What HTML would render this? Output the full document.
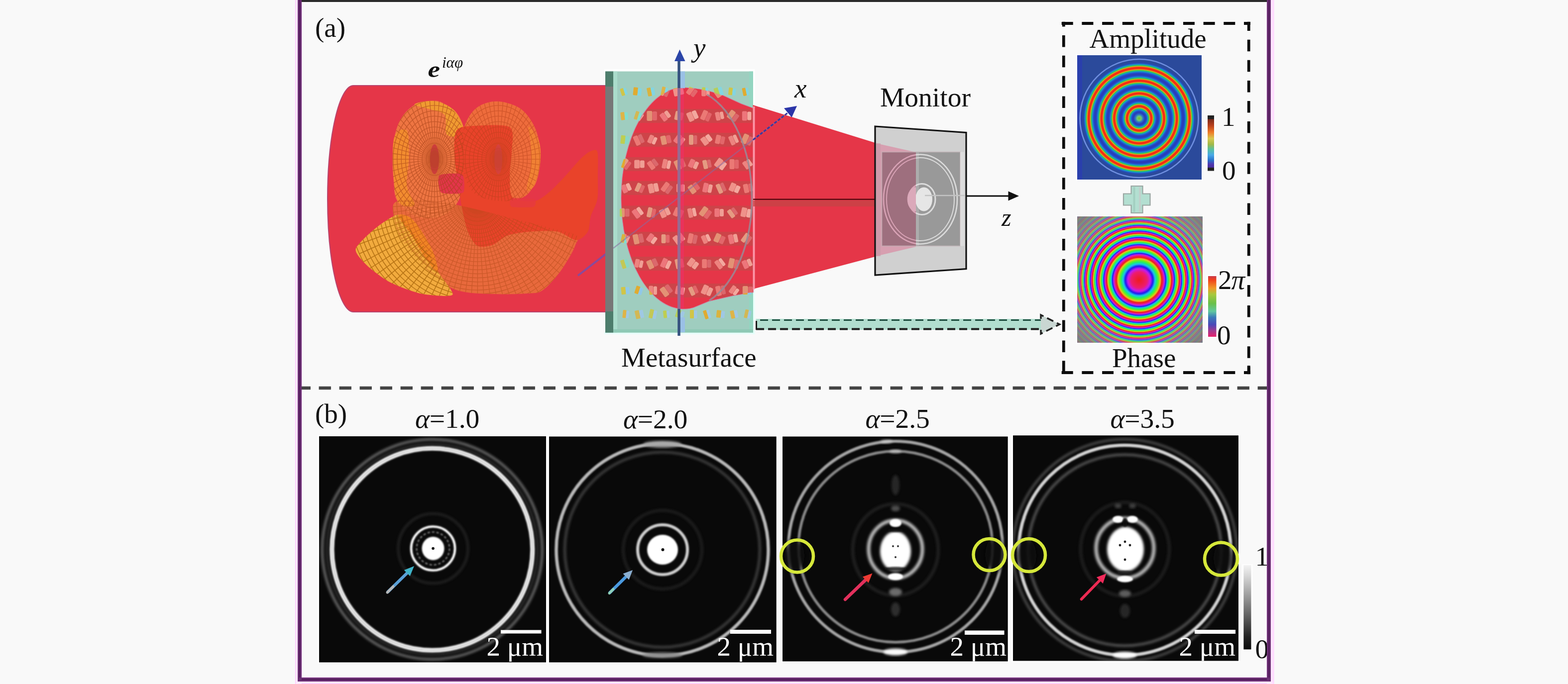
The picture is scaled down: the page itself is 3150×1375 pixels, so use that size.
<!DOCTYPE html>
<html lang="en"><head><meta charset="utf-8"><title>Metasurface vortex beam figure</title>
<style>
html,body{margin:0;padding:0;background:#f9f9f9;}
body{width:3150px;height:1375px;}
svg{display:block;font-family:'Liberation Serif','Noto Serif CJK SC',serif;}
</style></head><body>
<svg width="3150" height="1375" viewBox="0 0 3150 1375">
<defs>
<clipPath id="cpL"><path d="M871,202.6C862.1,202.9 846.7,204.2 836.5,209.1C826.3,214 816.8,222.5 809.8,232.1C802.7,241.7 798,253.1 794.4,266.5C790.9,279.9 789.3,296.5 788.7,312.5C788.1,328.4 789,346.9 790.6,362.2C792.2,377.5 790.6,392.2 798.3,404.3C805.9,416.4 821.9,429.8 836.5,434.9C851.2,440 872.3,440 886.3,434.9C900.3,429.8 913.4,417.7 920.7,404.3C928.1,390.9 928.6,371.1 930.3,354.6C932,338 931.4,320.8 931.1,304.8C930.7,288.9 931.4,272.3 928.4,258.9C925.4,245.5 919.5,233.1 913.1,224.4C906.7,215.8 897.1,210.9 890.1,207.2C883.1,203.6 879.9,202.3 871,202.6Z"/></clipPath>
<clipPath id="cpR"><path d="M1001.1,203.8C988.3,202.8 976.2,206.3 966.7,211C957.1,215.8 949.8,222.8 943.7,232.1C937.6,241.3 932.9,252.5 930.3,266.5C927.8,280.6 927.4,300.3 928.4,316.3C929.3,332.2 930.9,349.5 936,362.2C941.1,375 947.5,385.8 959,392.8C970.5,399.8 989.6,403.7 1004.9,404.3C1020.2,405 1039.4,402.4 1050.9,396.7C1062.3,390.9 1068.1,381.4 1073.8,369.9C1079.6,358.4 1083.7,341.8 1085.3,327.8C1086.9,313.7 1085.9,299.1 1083.4,285.7C1080.8,272.3 1076.7,258.9 1070,247.4C1063.3,235.9 1054.7,224.1 1043.2,216.8C1031.7,209.5 1013.9,204.7 1001.1,203.8Z"/></clipPath>
<clipPath id="cpF"><path d="M714.6,500.5C716.6,491.8 744.4,466.8 754.4,458.7C764.4,450.6 792.1,431 800.4,431.5C808.7,432 818.7,454.3 825.5,462.9C832.4,471.4 852.6,495 859,504.7C865.3,514.5 874.1,536.3 879.9,546.6C885.8,556.8 913.1,587.5 909.2,592.6C905.3,597.7 861.1,593.4 846.4,590.5C831.8,587.6 796.4,574.1 783.7,567.5C771,560.9 745.7,541.8 737.7,534C729.6,526.2 712.7,509.3 714.6,500.5Z"/></clipPath>
<clipPath id="cpS"><path d="M798.3,404.3C784.2,409.4 790,423.4 790.6,434.9C791.3,446.4 794.4,459.2 802.1,473.2C809.8,487.2 824.4,505.1 836.5,519.1C848.7,533.2 860.8,546.6 874.8,557.4C888.8,568.2 901.6,578.6 920.7,584.2C939.9,589.8 966.7,590.1 989.6,591.1C1012.6,592 1041.9,591.1 1058.5,589.9C1075.1,588.8 1078.9,590.2 1089.1,584.2C1099.3,578.1 1110.8,564.4 1119.7,553.6C1128.7,542.7 1136.6,529.3 1142.7,519.1C1148.8,508.9 1153.5,500 1156.1,492.3C1158.6,484.7 1166.6,478.9 1158,473.2C1149.4,467.5 1126.1,463.6 1104.4,457.9C1082.7,452.2 1053.4,445.1 1027.9,438.8C1002.4,432.4 976.9,425.4 951.4,419.6C925.8,413.9 900.3,406.9 874.8,404.3C849.3,401.8 812.3,399.2 798.3,404.3Z"/></clipPath>
<clipPath id="cpSpot"><path d="M1373.5,176.5 A125,222 0 0 0 1373.5,620.5 C1384,620.5 1390,619 1396,616.5 L1424,605 L1472,594 L1513,587 L1513,218 L1488.5,209 L1451.5,192 C1430,184.5 1405,177.5 1373.5,176.5 Z"/></clipPath>
<clipPath id="cpMonL"><rect x="1760" y="280" width="80" height="250"/></clipPath>
<clipPath id="cpMonR"><rect x="1840" y="280" width="100" height="250"/></clipPath>
<radialGradient id="gAmp" gradientUnits="userSpaceOnUse" cx="2288.5" cy="238" r="114.0"><stop offset="0.0000" stop-color="#78be1e"/><stop offset="0.0050" stop-color="#77bf2b"/><stop offset="0.0100" stop-color="#75c137"/><stop offset="0.0150" stop-color="#74c244"/><stop offset="0.0200" stop-color="#72c450"/><stop offset="0.0250" stop-color="#71c55d"/><stop offset="0.0300" stop-color="#70c669"/><stop offset="0.0350" stop-color="#6ec876"/><stop offset="0.0400" stop-color="#66be81"/><stop offset="0.0450" stop-color="#5cb18c"/><stop offset="0.0500" stop-color="#53a597"/><stop offset="0.0550" stop-color="#4998a2"/><stop offset="0.0600" stop-color="#3f8cae"/><stop offset="0.0650" stop-color="#357fb9"/><stop offset="0.0700" stop-color="#2c73c4"/><stop offset="0.0750" stop-color="#2869c6"/><stop offset="0.0800" stop-color="#2960c2"/><stop offset="0.0850" stop-color="#2a58bf"/><stop offset="0.0900" stop-color="#2a4fbb"/><stop offset="0.0950" stop-color="#2b47b7"/><stop offset="0.1000" stop-color="#2c3eb4"/><stop offset="0.1050" stop-color="#2b3bb5"/><stop offset="0.1100" stop-color="#293eba"/><stop offset="0.1150" stop-color="#2741c0"/><stop offset="0.1200" stop-color="#2544c5"/><stop offset="0.1250" stop-color="#2347ca"/><stop offset="0.1300" stop-color="#2150ce"/><stop offset="0.1350" stop-color="#1f5fcf"/><stop offset="0.1400" stop-color="#1c6ed0"/><stop offset="0.1450" stop-color="#1a7dd1"/><stop offset="0.1500" stop-color="#188dd1"/><stop offset="0.1550" stop-color="#1a9db7"/><stop offset="0.1600" stop-color="#1dae9d"/><stop offset="0.1650" stop-color="#24bb7f"/><stop offset="0.1700" stop-color="#36bf59"/><stop offset="0.1750" stop-color="#4dc336"/><stop offset="0.1800" stop-color="#90c12d"/><stop offset="0.1850" stop-color="#d2be24"/><stop offset="0.1900" stop-color="#e7881d"/><stop offset="0.1950" stop-color="#f34815"/><stop offset="0.2000" stop-color="#f53914"/><stop offset="0.2050" stop-color="#f53213"/><stop offset="0.2100" stop-color="#f62c13"/><stop offset="0.2150" stop-color="#f62612"/><stop offset="0.2200" stop-color="#f62c13"/><stop offset="0.2250" stop-color="#f53313"/><stop offset="0.2300" stop-color="#f53914"/><stop offset="0.2350" stop-color="#f34b15"/><stop offset="0.2400" stop-color="#e68a1d"/><stop offset="0.2450" stop-color="#d0be25"/><stop offset="0.2500" stop-color="#8dc12d"/><stop offset="0.2550" stop-color="#4ac336"/><stop offset="0.2600" stop-color="#35bf5a"/><stop offset="0.2650" stop-color="#24ba80"/><stop offset="0.2700" stop-color="#1cae9e"/><stop offset="0.2750" stop-color="#1a9db8"/><stop offset="0.2800" stop-color="#188cd2"/><stop offset="0.2850" stop-color="#1a7dd1"/><stop offset="0.2900" stop-color="#1c6ed0"/><stop offset="0.2950" stop-color="#1f5fcf"/><stop offset="0.3000" stop-color="#2150ce"/><stop offset="0.3050" stop-color="#2347ca"/><stop offset="0.3100" stop-color="#2544c5"/><stop offset="0.3150" stop-color="#2741bf"/><stop offset="0.3200" stop-color="#293eba"/><stop offset="0.3250" stop-color="#2b3bb4"/><stop offset="0.3300" stop-color="#2b3cb5"/><stop offset="0.3350" stop-color="#293ebb"/><stop offset="0.3400" stop-color="#2741c0"/><stop offset="0.3450" stop-color="#2544c5"/><stop offset="0.3500" stop-color="#2347cb"/><stop offset="0.3550" stop-color="#2151ce"/><stop offset="0.3600" stop-color="#1e61cf"/><stop offset="0.3650" stop-color="#1c70d0"/><stop offset="0.3700" stop-color="#1a7fd1"/><stop offset="0.3750" stop-color="#188ecf"/><stop offset="0.3800" stop-color="#1b9fb5"/><stop offset="0.3850" stop-color="#1db09b"/><stop offset="0.3900" stop-color="#26bb7c"/><stop offset="0.3950" stop-color="#38bf56"/><stop offset="0.4000" stop-color="#53c335"/><stop offset="0.4050" stop-color="#95c02c"/><stop offset="0.4100" stop-color="#d8be23"/><stop offset="0.4150" stop-color="#e8821c"/><stop offset="0.4200" stop-color="#f44315"/><stop offset="0.4250" stop-color="#f53814"/><stop offset="0.4300" stop-color="#f63213"/><stop offset="0.4350" stop-color="#f62c12"/><stop offset="0.4400" stop-color="#f62712"/><stop offset="0.4450" stop-color="#f62d13"/><stop offset="0.4500" stop-color="#f53313"/><stop offset="0.4550" stop-color="#f53a14"/><stop offset="0.4600" stop-color="#f15016"/><stop offset="0.4650" stop-color="#e5901e"/><stop offset="0.4700" stop-color="#cabf25"/><stop offset="0.4750" stop-color="#87c12e"/><stop offset="0.4800" stop-color="#46c338"/><stop offset="0.4850" stop-color="#34be5e"/><stop offset="0.4900" stop-color="#22ba83"/><stop offset="0.4950" stop-color="#1caca0"/><stop offset="0.5000" stop-color="#1a9bba"/><stop offset="0.5050" stop-color="#188bd2"/><stop offset="0.5100" stop-color="#1a7cd1"/><stop offset="0.5150" stop-color="#1d6cd0"/><stop offset="0.5200" stop-color="#1f5dcf"/><stop offset="0.5250" stop-color="#214ecd"/><stop offset="0.5300" stop-color="#2346ca"/><stop offset="0.5350" stop-color="#2543c4"/><stop offset="0.5400" stop-color="#2741bf"/><stop offset="0.5450" stop-color="#293eb9"/><stop offset="0.5500" stop-color="#2b3bb4"/><stop offset="0.5550" stop-color="#2b3cb6"/><stop offset="0.5600" stop-color="#293fbb"/><stop offset="0.5650" stop-color="#2742c0"/><stop offset="0.5700" stop-color="#2544c6"/><stop offset="0.5750" stop-color="#2347cb"/><stop offset="0.5800" stop-color="#2053ce"/><stop offset="0.5850" stop-color="#1e62cf"/><stop offset="0.5900" stop-color="#1c71d0"/><stop offset="0.5950" stop-color="#1a80d1"/><stop offset="0.6000" stop-color="#1890cc"/><stop offset="0.6050" stop-color="#1ba0b2"/><stop offset="0.6100" stop-color="#1db198"/><stop offset="0.6150" stop-color="#27bb78"/><stop offset="0.6200" stop-color="#39c052"/><stop offset="0.6250" stop-color="#59c235"/><stop offset="0.6300" stop-color="#9bc02c"/><stop offset="0.6350" stop-color="#dcbc23"/><stop offset="0.6400" stop-color="#e97d1b"/><stop offset="0.6450" stop-color="#f53e14"/><stop offset="0.6500" stop-color="#f53813"/><stop offset="0.6550" stop-color="#f63113"/><stop offset="0.6600" stop-color="#f62b12"/><stop offset="0.6650" stop-color="#f62712"/><stop offset="0.6700" stop-color="#f62d13"/><stop offset="0.6750" stop-color="#f53413"/><stop offset="0.6800" stop-color="#f53a14"/><stop offset="0.6850" stop-color="#f05617"/><stop offset="0.6900" stop-color="#e4951e"/><stop offset="0.6950" stop-color="#c4bf26"/><stop offset="0.7000" stop-color="#82c12f"/><stop offset="0.7050" stop-color="#44c33b"/><stop offset="0.7100" stop-color="#32be61"/><stop offset="0.7150" stop-color="#20ba87"/><stop offset="0.7200" stop-color="#1caba2"/><stop offset="0.7250" stop-color="#1a9abc"/><stop offset="0.7300" stop-color="#1889d2"/><stop offset="0.7350" stop-color="#1b7ad1"/><stop offset="0.7400" stop-color="#1d6bd0"/><stop offset="0.7450" stop-color="#1f5cce"/><stop offset="0.7500" stop-color="#214dcd"/><stop offset="0.7550" stop-color="#2346c9"/><stop offset="0.7600" stop-color="#2543c4"/><stop offset="0.7650" stop-color="#2740be"/><stop offset="0.7700" stop-color="#293eb9"/><stop offset="0.7750" stop-color="#2b3bb3"/><stop offset="0.7800" stop-color="#2b3cb6"/><stop offset="0.7850" stop-color="#283fbb"/><stop offset="0.7900" stop-color="#2642c1"/><stop offset="0.7950" stop-color="#2445c6"/><stop offset="0.8000" stop-color="#2247cc"/><stop offset="0.8050" stop-color="#2054ce"/><stop offset="0.8100" stop-color="#1e63cf"/><stop offset="0.8150" stop-color="#1c72d0"/><stop offset="0.8200" stop-color="#1a81d1"/><stop offset="0.8250" stop-color="#1991ca"/><stop offset="0.8300" stop-color="#1ba2b0"/><stop offset="0.8350" stop-color="#1db296"/><stop offset="0.8400" stop-color="#29bc75"/><stop offset="0.8450" stop-color="#3bc04f"/><stop offset="0.8500" stop-color="#5ec234"/><stop offset="0.8550" stop-color="#a1c02b"/><stop offset="0.8600" stop-color="#ddb622"/><stop offset="0.8650" stop-color="#ea771b"/><stop offset="0.8700" stop-color="#f53d14"/><stop offset="0.8750" stop-color="#f53713"/><stop offset="0.8800" stop-color="#f63113"/><stop offset="0.8850" stop-color="#f62b12"/><stop offset="0.8900" stop-color="#f62812"/><stop offset="0.8950" stop-color="#f62e13"/><stop offset="0.9000" stop-color="#f53413"/><stop offset="0.9050" stop-color="#f53b14"/><stop offset="0.9100" stop-color="#ef5b17"/><stop offset="0.9150" stop-color="#e39b1f"/><stop offset="0.9200" stop-color="#bebf27"/><stop offset="0.9250" stop-color="#7cc130"/><stop offset="0.9300" stop-color="#43c23e"/><stop offset="0.9350" stop-color="#31be64"/><stop offset="0.9400" stop-color="#1fb98a"/><stop offset="0.9450" stop-color="#1ca9a5"/><stop offset="0.9500" stop-color="#1a98bf"/><stop offset="0.9550" stop-color="#1988d2"/><stop offset="0.9600" stop-color="#1c75cc"/><stop offset="0.9650" stop-color="#2064c4"/><stop offset="0.9700" stop-color="#2356be"/><stop offset="0.9750" stop-color="#254bb7"/><stop offset="0.9800" stop-color="#2848b0"/><stop offset="0.9850" stop-color="#2948a9"/><stop offset="0.9900" stop-color="#2a48a3"/><stop offset="0.9950" stop-color="#2b499e"/><stop offset="1.0000" stop-color="#2b4a9b"/></radialGradient>
<linearGradient id="gJet" x1="0" y1="0" x2="0" y2="1"><stop offset="0" stop-color="#7a2a1a"/><stop offset="0.13" stop-color="#b8401c"/><stop offset="0.27" stop-color="#ee7a28"/><stop offset="0.40" stop-color="#d8c850"/><stop offset="0.52" stop-color="#a0b848"/><stop offset="0.62" stop-color="#58c0a0"/><stop offset="0.74" stop-color="#48a8e8"/><stop offset="0.85" stop-color="#2a70c8"/><stop offset="0.93" stop-color="#5038b0"/><stop offset="1" stop-color="#4a309a"/></linearGradient>
<radialGradient id="gPh" gradientUnits="userSpaceOnUse" cx="2288.4" cy="562.8" r="182.0"><stop offset="0.0000" stop-color="#ed1c1c"/><stop offset="0.0876" stop-color="#ed1c6e"/><stop offset="0.1241" stop-color="#c41ced"/><stop offset="0.1522" stop-color="#1d1ced"/><stop offset="0.1759" stop-color="#1cc2ed"/><stop offset="0.1969" stop-color="#1ced70"/><stop offset="0.2160" stop-color="#6fed1c"/><stop offset="0.2336" stop-color="#edc31c"/><stop offset="0.2500" stop-color="#ed1c1c"/><stop offset="0.2655" stop-color="#ed1c6e"/><stop offset="0.2802" stop-color="#c41ced"/><stop offset="0.2942" stop-color="#1d1ced"/><stop offset="0.3076" stop-color="#1cc2ed"/><stop offset="0.3206" stop-color="#1ced70"/><stop offset="0.3331" stop-color="#6fed1c"/><stop offset="0.3452" stop-color="#edc31c"/><stop offset="0.3569" stop-color="#ed1c1c"/><stop offset="0.3684" stop-color="#ed1c6e"/><stop offset="0.3795" stop-color="#c41ced"/><stop offset="0.3903" stop-color="#1d1ced"/><stop offset="0.4009" stop-color="#1cc2ed"/><stop offset="0.4113" stop-color="#1ced70"/><stop offset="0.4215" stop-color="#6fed1c"/><stop offset="0.4315" stop-color="#edc31c"/><stop offset="0.4413" stop-color="#ed1c1c"/><stop offset="0.4509" stop-color="#ed1c6e"/><stop offset="0.4604" stop-color="#c41ced"/><stop offset="0.4697" stop-color="#1d1ced"/><stop offset="0.4788" stop-color="#1cc2ed"/><stop offset="0.4879" stop-color="#1ced70"/><stop offset="0.4968" stop-color="#6fed1c"/><stop offset="0.5056" stop-color="#edc31c"/><stop offset="0.5143" stop-color="#ed1c1c"/><stop offset="0.5228" stop-color="#ed1c6e"/><stop offset="0.5313" stop-color="#c41ced"/><stop offset="0.5397" stop-color="#1d1ced"/><stop offset="0.5479" stop-color="#1cc2ed"/><stop offset="0.5561" stop-color="#1ced70"/><stop offset="0.5642" stop-color="#6fed1c"/><stop offset="0.5722" stop-color="#edc31c"/><stop offset="0.5802" stop-color="#ec1e1e"/><stop offset="0.5881" stop-color="#e92170"/><stop offset="0.5958" stop-color="#c225e7"/><stop offset="0.6036" stop-color="#2a28e5"/><stop offset="0.6112" stop-color="#2cbde3"/><stop offset="0.6188" stop-color="#2fe077"/><stop offset="0.6263" stop-color="#77de32"/><stop offset="0.6338" stop-color="#dcbb36"/><stop offset="0.6412" stop-color="#da3939"/><stop offset="0.6486" stop-color="#d83b79"/><stop offset="0.6559" stop-color="#b83ed6"/><stop offset="0.6632" stop-color="#4241d3"/><stop offset="0.6704" stop-color="#44b4d1"/><stop offset="0.6775" stop-color="#46cf7e"/><stop offset="0.6846" stop-color="#7dcd49"/><stop offset="0.6917" stop-color="#cbb24b"/><stop offset="0.6987" stop-color="#c94e4e"/><stop offset="0.7057" stop-color="#c7507f"/><stop offset="0.7126" stop-color="#af52c5"/><stop offset="0.7195" stop-color="#5554c3"/><stop offset="0.7263" stop-color="#56abc1"/><stop offset="0.7331" stop-color="#58bf82"/><stop offset="0.7399" stop-color="#81bd5a"/><stop offset="0.7467" stop-color="#bba85c"/><stop offset="0.7534" stop-color="#b95e5e"/><stop offset="0.7600" stop-color="#b75f82"/><stop offset="0.7667" stop-color="#a561b5"/><stop offset="0.7733" stop-color="#6363b3"/><stop offset="0.7799" stop-color="#64a2b1"/><stop offset="0.7864" stop-color="#66af83"/><stop offset="0.7929" stop-color="#83ae67"/><stop offset="0.7994" stop-color="#ac9e68"/><stop offset="0.8058" stop-color="#aa6969"/><stop offset="0.8123" stop-color="#a86b83"/><stop offset="0.8187" stop-color="#9b6ca6"/><stop offset="0.8250" stop-color="#6d6da4"/><stop offset="0.8314" stop-color="#6e98a2"/><stop offset="0.8377" stop-color="#6fa083"/><stop offset="0.8440" stop-color="#829f70"/><stop offset="0.8503" stop-color="#9d9471"/><stop offset="0.8565" stop-color="#9b7272"/><stop offset="0.8627" stop-color="#997282"/><stop offset="0.8689" stop-color="#907397"/><stop offset="0.8751" stop-color="#747495"/><stop offset="0.8813" stop-color="#748d94"/><stop offset="0.8874" stop-color="#759281"/><stop offset="0.8935" stop-color="#809075"/><stop offset="0.8996" stop-color="#8e8976"/><stop offset="0.9057" stop-color="#8d7676"/><stop offset="0.9117" stop-color="#8b777e"/><stop offset="0.9178" stop-color="#867789"/><stop offset="0.9238" stop-color="#777789"/><stop offset="0.9298" stop-color="#778589"/><stop offset="0.9358" stop-color="#77897e"/><stop offset="0.9417" stop-color="#7e8977"/><stop offset="0.9477" stop-color="#898577"/><stop offset="0.9536" stop-color="#897777"/><stop offset="0.9595" stop-color="#89777e"/><stop offset="0.9654" stop-color="#867789"/><stop offset="0.9713" stop-color="#777789"/><stop offset="0.9771" stop-color="#778589"/><stop offset="0.9830" stop-color="#77897e"/><stop offset="0.9888" stop-color="#7e8977"/><stop offset="0.9946" stop-color="#898577"/></radialGradient>
<linearGradient id="gHsv" x1="0" y1="0" x2="0" y2="1"><stop offset="0" stop-color="#c83a4a"/><stop offset="0.06" stop-color="#f0401c"/><stop offset="0.2" stop-color="#f09a28"/><stop offset="0.3" stop-color="#a8c83c"/><stop offset="0.45" stop-color="#68c048"/><stop offset="0.58" stop-color="#60c8a0"/><stop offset="0.68" stop-color="#3a7ab8"/><stop offset="0.8" stop-color="#4a48b8"/><stop offset="0.9" stop-color="#a03a90"/><stop offset="1" stop-color="#e8206a"/></linearGradient>
<filter id="bl1" x="-20%" y="-20%" width="140%" height="140%"><feGaussianBlur stdDeviation="1.6"/></filter>
<filter id="bl2" x="-20%" y="-20%" width="140%" height="140%"><feGaussianBlur stdDeviation="2.6"/></filter>
<filter id="bl3" x="-30%" y="-30%" width="160%" height="160%"><feGaussianBlur stdDeviation="4"/></filter>
<clipPath id="cpI0"><rect x="641" y="877" width="456" height="454.5"/></clipPath>
<clipPath id="cpI1"><rect x="1103" y="877.5" width="456.7" height="454"/></clipPath>
<clipPath id="cpI2"><rect x="1572" y="877.5" width="452.7" height="452"/></clipPath>
<clipPath id="cpI3"><rect x="2035" y="875.3" width="453" height="453.2"/></clipPath>
<linearGradient id="gGray" x1="0" y1="0" x2="0" y2="1"><stop offset="0" stop-color="#f2f2f2"/><stop offset="0.12" stop-color="#d8d8d8"/><stop offset="0.5" stop-color="#7a7a7a"/><stop offset="0.85" stop-color="#222"/><stop offset="1" stop-color="#0a0a0a"/></linearGradient>
</defs>
<rect x="0" y="0" width="3150" height="1375" fill="#f9f9f9"/>
<rect x="593" y="0" width="15" height="1375" fill="#ffeaff"/>
<rect x="593" y="0" width="1.4" height="1375" fill="#ffc8ff"/>
<rect x="2544" y="0" width="15.3" height="1375" fill="#ffeaff"/>
<rect x="2558" y="0" width="1.3" height="1375" fill="#ffc8ff"/>
<rect x="2555.2" y="0" width="1.2" height="1375" fill="#ffd4ff"/>
<rect x="606" y="1360" width="1939" height="15" fill="#ffeaff"/>
<rect x="606" y="1373.6" width="1939" height="1.4" fill="#ffc8ff"/>
<line x1="599.6" y1="780" x2="2546" y2="780" stroke="#444" stroke-width="6.3" stroke-dasharray="24.3 16.7"/>
<rect x="606" y="0" width="1939" height="4.2" fill="#2b2b2b"/>
<rect x="606" y="4.2" width="1939" height="2" fill="#ffffff"/>
<rect x="598" y="0" width="8" height="1370" fill="#6a2f73"/>
<rect x="601" y="0" width="1.6" height="1370" fill="#4a1552"/>
<rect x="2545" y="0" width="8" height="1370" fill="#6a2f73"/>
<rect x="2548.4" y="0" width="1.6" height="1370" fill="#4a1552"/>
<rect x="598" y="1362" width="1955" height="8" fill="#6a2f73"/>
<rect x="606" y="1365" width="1939" height="1.8" fill="#4a1552"/>
<text x="633" y="74" font-size="55" fill="#111" text-anchor="start"  style="">(a)</text>
<text x="633" y="850" font-size="55" fill="#111" text-anchor="start"  style="">(b)</text>
<path d="M1217,172 L710,172 A52,227.5 0 0 0 710,627 L1217,627 Z" fill="#e53648" stroke="#b9436c" stroke-width="2"/>
<path d="M798.3,404.3C784.2,409.4 790,423.4 790.6,434.9C791.3,446.4 794.4,459.2 802.1,473.2C809.8,487.2 824.4,505.1 836.5,519.1C848.7,533.2 860.8,546.6 874.8,557.4C888.8,568.2 901.6,578.6 920.7,584.2C939.9,589.8 966.7,590.1 989.6,591.1C1012.6,592 1041.9,591.1 1058.5,589.9C1075.1,588.8 1078.9,590.2 1089.1,584.2C1099.3,578.1 1110.8,564.4 1119.7,553.6C1128.7,542.7 1136.6,529.3 1142.7,519.1C1148.8,508.9 1153.5,500 1156.1,492.3C1158.6,484.7 1166.6,478.9 1158,473.2C1149.4,467.5 1126.1,463.6 1104.4,457.9C1082.7,452.2 1053.4,445.1 1027.9,438.8C1002.4,432.4 976.9,425.4 951.4,419.6C925.8,413.9 900.3,406.9 874.8,404.3C849.3,401.8 812.3,399.2 798.3,404.3Z" fill="#e8693c"/>
<path id="lobeL" d="M871,202.6C862.1,202.9 846.7,204.2 836.5,209.1C826.3,214 816.8,222.5 809.8,232.1C802.7,241.7 798,253.1 794.4,266.5C790.9,279.9 789.3,296.5 788.7,312.5C788.1,328.4 789,346.9 790.6,362.2C792.2,377.5 790.6,392.2 798.3,404.3C805.9,416.4 821.9,429.8 836.5,434.9C851.2,440 872.3,440 886.3,434.9C900.3,429.8 913.4,417.7 920.7,404.3C928.1,390.9 928.6,371.1 930.3,354.6C932,338 931.4,320.8 931.1,304.8C930.7,288.9 931.4,272.3 928.4,258.9C925.4,245.5 919.5,233.1 913.1,224.4C906.7,215.8 897.1,210.9 890.1,207.2C883.1,203.6 879.9,202.3 871,202.6Z" fill="#ee7542"/>
<path id="lobeR" d="M1001.1,203.8C988.3,202.8 976.2,206.3 966.7,211C957.1,215.8 949.8,222.8 943.7,232.1C937.6,241.3 932.9,252.5 930.3,266.5C927.8,280.6 927.4,300.3 928.4,316.3C929.3,332.2 930.9,349.5 936,362.2C941.1,375 947.5,385.8 959,392.8C970.5,399.8 989.6,403.7 1004.9,404.3C1020.2,405 1039.4,402.4 1050.9,396.7C1062.3,390.9 1068.1,381.4 1073.8,369.9C1079.6,358.4 1083.7,341.8 1085.3,327.8C1086.9,313.7 1085.9,299.1 1083.4,285.7C1080.8,272.3 1076.7,258.9 1070,247.4C1063.3,235.9 1054.7,224.1 1043.2,216.8C1031.7,209.5 1013.9,204.7 1001.1,203.8Z" fill="#ee6c3c"/>
<path d="M791.4,278C795.7,261.4 812.4,256.3 817.4,262.7C822.4,269.1 821.2,297.8 821.2,316.3C821.2,334.8 815.5,357.8 817.4,373.7C819.3,389.6 835.3,406.2 832.7,412C830.2,417.7 809,416.4 802.1,408.1C795.2,399.8 793.2,383.9 791.4,362.2C789.6,340.5 787,294.6 791.4,278Z" fill="#f2902c" opacity="0.85"/>
<path d="M832.7,209.9C833.4,207 858.2,201.5 871,203C883.7,204.5 899.7,211.3 909.3,218.7C918.8,226.1 924.9,238.5 928.4,247.4C931.9,256.3 935.4,268.5 930.3,272.3C925.2,276.1 903.8,277.1 897.8,270.4C891.7,263.7 899,240.4 893.9,232.1C888.8,223.8 877.4,224.3 867.2,220.6C857,216.9 832.1,212.8 832.7,209.9Z" fill="#f0a030" opacity="0.9"/>
<path d="M1062.3,255.1C1065.2,254.4 1079.6,273.6 1083.4,285.7C1087.2,297.8 1086.6,313.7 1085.3,327.8C1084,341.8 1080.2,360.9 1075.7,369.9C1071.3,378.8 1060.1,387.1 1058.5,381.4C1056.9,375.6 1064.9,350.7 1066.2,335.4C1067.4,320.1 1066.8,302.9 1066.2,289.5C1065.5,276.1 1059.5,255.7 1062.3,255.1Z" fill="#f28a30" opacity="0.7"/>
<path d="M916.9,262.7C922.3,253.9 936.3,254.1 951.4,253.1C966.4,252.2 1013.3,248.6 1024.1,255.8C1034.8,263.1 1027.9,291.5 1027.9,304.8C1027.9,318.1 1023.8,337.9 1024.1,350.7C1024.3,363.6 1022.8,389.2 1029.8,396.7C1036.8,404.2 1063.4,405.9 1073.8,404.3C1084.3,402.7 1095.9,392.1 1104.4,385.2C1113,378.2 1126.5,363.7 1135,354.6C1143.6,345.5 1158.7,327.1 1165.7,320.1C1172.6,313.2 1180,307 1184.8,304.8C1189.6,302.7 1197.9,297.8 1200.1,304.8C1202.4,311.8 1200.9,341.2 1200.9,354.6C1200.9,368 1202.1,389.2 1200.1,400.5C1198.1,411.7 1189.4,425.8 1186.7,434.9C1184,444 1185,458.8 1181,465.5C1177,472.2 1166.6,482.8 1158,482.8C1149.4,482.8 1132.6,468 1119.7,465.5C1106.9,463.1 1080.1,464.5 1066.2,465.5C1052.2,466.6 1031,469.4 1020.2,473.2C1009.5,476.9 998.2,489.4 989.6,492.3C981,495.3 966,498 959,494.2C952,490.5 944.2,476 939.9,465.5C935.6,455.1 931.1,433 928.4,419.6C925.7,406.2 922.9,384.3 920.7,369.9C918.6,355.4 913.6,331.3 913.1,316.3C912.5,301.3 911.5,271.6 916.9,262.7Z" fill="#e9432a"/>
<ellipse cx="872.9" cy="320.1" rx="9" ry="30" fill="#e23a50"/>
<ellipse cx="1001.1" cy="320.1" rx="8" ry="30" fill="#e4424c"/>
<path d="M882.5,352.6C886.7,349 923.6,347.3 928.4,350.7C933.2,354.2 934.5,383.5 930.3,387.1C926.1,390.7 891.1,390.5 886.3,387.1C881.5,383.6 878.3,356.3 882.5,352.6Z" fill="#e3354a"/>
<path d="M1027.9,398.6C1032.5,397 1069.4,398.8 1073.8,400.5C1078.2,402.2 1076.5,414.3 1071.9,415.8C1067.3,417.3 1032.3,417.5 1027.9,415.8C1023.5,414.1 1023.3,400.1 1027.9,398.6Z" fill="#e63a40" opacity="0.8"/>
<path id="fan" d="M714.6,500.5C716.6,491.8 744.4,466.8 754.4,458.7C764.4,450.6 792.1,431 800.4,431.5C808.7,432 818.7,454.3 825.5,462.9C832.4,471.4 852.6,495 859,504.7C865.3,514.5 874.1,536.3 879.9,546.6C885.8,556.8 913.1,587.5 909.2,592.6C905.3,597.7 861.1,593.4 846.4,590.5C831.8,587.6 796.4,574.1 783.7,567.5C771,560.9 745.7,541.8 737.7,534C729.6,526.2 712.7,509.3 714.6,500.5Z" fill="#f2ab3e"/>
<path d="M800.4,433.6C801.1,428.7 818.5,430.8 829.7,442C840.9,453.1 859,483.1 867.4,500.5C875.7,518 881.3,542.4 879.9,546.6C878.5,550.8 868.1,538.2 859,525.6C849.9,513.1 835.3,486.6 825.5,471.3C815.8,455.9 799.7,438.5 800.4,433.6Z" fill="#f08424"/>
<g clip-path="url(#cpL)" stroke="#a8441a" stroke-width="1.3" fill="none" opacity="0.62"><path d="M872.9,320.1L1022.9,320.1M872.9,320.1L1022.1,340.5M872.9,320.1L1019.6,360.7M872.9,320.1L1015.6,380.4M872.9,320.1L1009.9,399.4M872.9,320.1L1002.8,417.6M872.9,320.1L994.2,434.7M872.9,320.1L984.4,450.6M872.9,320.1L973.3,465M872.9,320.1L961.1,477.9M872.9,320.1L947.9,489M872.9,320.1L933.9,498.3M872.9,320.1L919.2,505.6M872.9,320.1L904.1,510.9M872.9,320.1L888.6,514.1M872.9,320.1L872.9,515.1M872.9,320.1L857.2,514.1M872.9,320.1L841.7,510.9M872.9,320.1L826.5,505.6M872.9,320.1L811.9,498.3M872.9,320.1L797.9,489M872.9,320.1L784.7,477.9M872.9,320.1L772.5,465M872.9,320.1L761.4,450.6M872.9,320.1L751.5,434.7M872.9,320.1L743,417.6M872.9,320.1L735.9,399.4M872.9,320.1L730.2,380.4M872.9,320.1L726.2,360.7M872.9,320.1L723.7,340.5M872.9,320.1L722.9,320.1M872.9,320.1L723.7,299.7M872.9,320.1L726.2,279.6M872.9,320.1L730.2,259.9M872.9,320.1L735.9,240.8M872.9,320.1L743,222.6M872.9,320.1L751.5,205.5M872.9,320.1L761.4,189.6M872.9,320.1L772.5,175.2M872.9,320.1L784.7,162.4M872.9,320.1L797.9,151.2M872.9,320.1L811.9,142M872.9,320.1L826.5,134.7M872.9,320.1L841.7,129.4M872.9,320.1L857.2,126.2M872.9,320.1L872.9,125.1M872.9,320.1L888.6,126.2M872.9,320.1L904.1,129.4M872.9,320.1L919.2,134.7M872.9,320.1L933.9,142M872.9,320.1L947.9,151.2M872.9,320.1L961.1,162.4M872.9,320.1L973.3,175.2M872.9,320.1L984.4,189.6M872.9,320.1L994.2,205.5M872.9,320.1L1002.8,222.6M872.9,320.1L1009.9,240.8M872.9,320.1L1015.6,259.9M872.9,320.1L1019.6,279.6M872.9,320.1L1022.1,299.7"/><ellipse cx="872.9" cy="320.1" rx="8.3" ry="10.8"/><ellipse cx="872.9" cy="320.1" rx="16.7" ry="21.7"/><ellipse cx="872.9" cy="320.1" rx="25" ry="32.5"/><ellipse cx="872.9" cy="320.1" rx="33.3" ry="43.3"/><ellipse cx="872.9" cy="320.1" rx="41.7" ry="54.2"/><ellipse cx="872.9" cy="320.1" rx="50" ry="65"/><ellipse cx="872.9" cy="320.1" rx="58.3" ry="75.8"/><ellipse cx="872.9" cy="320.1" rx="66.7" ry="86.7"/><ellipse cx="872.9" cy="320.1" rx="75" ry="97.5"/><ellipse cx="872.9" cy="320.1" rx="83.3" ry="108.3"/><ellipse cx="872.9" cy="320.1" rx="91.7" ry="119.2"/><ellipse cx="872.9" cy="320.1" rx="100" ry="130"/><ellipse cx="872.9" cy="320.1" rx="108.3" ry="140.8"/><ellipse cx="872.9" cy="320.1" rx="116.7" ry="151.7"/><ellipse cx="872.9" cy="320.1" rx="125" ry="162.5"/><ellipse cx="872.9" cy="320.1" rx="133.3" ry="173.3"/><ellipse cx="872.9" cy="320.1" rx="141.7" ry="184.2"/><ellipse cx="872.9" cy="320.1" rx="150" ry="195"/></g>
<g clip-path="url(#cpR)" stroke="#b4401a" stroke-width="1.3" fill="none" opacity="0.5"><path d="M1001.1,320.1L1151.1,320.1M1001.1,320.1L1150.3,340.5M1001.1,320.1L1147.8,360.7M1001.1,320.1L1143.8,380.4M1001.1,320.1L1138.1,399.4M1001.1,320.1L1131,417.6M1001.1,320.1L1122.5,434.7M1001.1,320.1L1112.6,450.6M1001.1,320.1L1101.5,465M1001.1,320.1L1089.3,477.9M1001.1,320.1L1076.1,489M1001.1,320.1L1062.1,498.3M1001.1,320.1L1047.5,505.6M1001.1,320.1L1032.3,510.9M1001.1,320.1L1016.8,514.1M1001.1,320.1L1001.1,515.1M1001.1,320.1L985.4,514.1M1001.1,320.1L969.9,510.9M1001.1,320.1L954.7,505.6M1001.1,320.1L940.1,498.3M1001.1,320.1L926.1,489M1001.1,320.1L912.9,477.9M1001.1,320.1L900.7,465M1001.1,320.1L889.6,450.6M1001.1,320.1L879.7,434.7M1001.1,320.1L871.2,417.6M1001.1,320.1L864.1,399.4M1001.1,320.1L858.4,380.4M1001.1,320.1L854.4,360.7M1001.1,320.1L851.9,340.5M1001.1,320.1L851.1,320.1M1001.1,320.1L851.9,299.7M1001.1,320.1L854.4,279.6M1001.1,320.1L858.4,259.9M1001.1,320.1L864.1,240.8M1001.1,320.1L871.2,222.6M1001.1,320.1L879.7,205.5M1001.1,320.1L889.6,189.6M1001.1,320.1L900.7,175.2M1001.1,320.1L912.9,162.4M1001.1,320.1L926.1,151.2M1001.1,320.1L940.1,142M1001.1,320.1L954.7,134.7M1001.1,320.1L969.9,129.4M1001.1,320.1L985.4,126.2M1001.1,320.1L1001.1,125.1M1001.1,320.1L1016.8,126.2M1001.1,320.1L1032.3,129.4M1001.1,320.1L1047.5,134.7M1001.1,320.1L1062.1,142M1001.1,320.1L1076.1,151.2M1001.1,320.1L1089.3,162.4M1001.1,320.1L1101.5,175.2M1001.1,320.1L1112.6,189.6M1001.1,320.1L1122.5,205.5M1001.1,320.1L1131,222.6M1001.1,320.1L1138.1,240.8M1001.1,320.1L1143.8,259.9M1001.1,320.1L1147.8,279.6M1001.1,320.1L1150.3,299.7"/><ellipse cx="1001.1" cy="320.1" rx="8.3" ry="10.8"/><ellipse cx="1001.1" cy="320.1" rx="16.7" ry="21.7"/><ellipse cx="1001.1" cy="320.1" rx="25" ry="32.5"/><ellipse cx="1001.1" cy="320.1" rx="33.3" ry="43.3"/><ellipse cx="1001.1" cy="320.1" rx="41.7" ry="54.2"/><ellipse cx="1001.1" cy="320.1" rx="50" ry="65"/><ellipse cx="1001.1" cy="320.1" rx="58.3" ry="75.8"/><ellipse cx="1001.1" cy="320.1" rx="66.7" ry="86.7"/><ellipse cx="1001.1" cy="320.1" rx="75" ry="97.5"/><ellipse cx="1001.1" cy="320.1" rx="83.3" ry="108.3"/><ellipse cx="1001.1" cy="320.1" rx="91.7" ry="119.2"/><ellipse cx="1001.1" cy="320.1" rx="100" ry="130"/><ellipse cx="1001.1" cy="320.1" rx="108.3" ry="140.8"/><ellipse cx="1001.1" cy="320.1" rx="116.7" ry="151.7"/><ellipse cx="1001.1" cy="320.1" rx="125" ry="162.5"/><ellipse cx="1001.1" cy="320.1" rx="133.3" ry="173.3"/><ellipse cx="1001.1" cy="320.1" rx="141.7" ry="184.2"/><ellipse cx="1001.1" cy="320.1" rx="150" ry="195"/></g>
<g clip-path="url(#cpF)" stroke="#a8660c" stroke-width="1.6" fill="none" opacity="0.8"><path d="M959.4,404.3L1219.4,404.3M959.4,404.3L1218.8,422.4M959.4,404.3L1216.9,440.5M959.4,404.3L1213.7,458.4M959.4,404.3L1209.3,476M959.4,404.3L1203.7,493.2M959.4,404.3L1196.9,510.1M959.4,404.3L1189,526.4M959.4,404.3L1179.9,542.1M959.4,404.3L1169.8,557.1M959.4,404.3L1158.6,571.4M959.4,404.3L1146.4,584.9M959.4,404.3L1133.4,597.5M959.4,404.3L1119.5,609.2M959.4,404.3L1104.8,619.9M959.4,404.3L1089.4,629.5M959.4,404.3L1073.4,638M959.4,404.3L1056.8,645.4M959.4,404.3L1039.8,651.6M959.4,404.3L1022.3,656.6M959.4,404.3L1004.6,660.4M959.4,404.3L986.6,662.9M959.4,404.3L968.5,664.2M959.4,404.3L950.3,664.2M959.4,404.3L932.2,662.9M959.4,404.3L914.3,660.4M959.4,404.3L896.5,656.6M959.4,404.3L879.1,651.6M959.4,404.3L862,645.4M959.4,404.3L845.4,638M959.4,404.3L829.4,629.5M959.4,404.3L814,619.9M959.4,404.3L799.3,609.2M959.4,404.3L785.4,597.5M959.4,404.3L772.4,584.9M959.4,404.3L760.2,571.4M959.4,404.3L749.1,557.1M959.4,404.3L738.9,542.1M959.4,404.3L729.8,526.4M959.4,404.3L721.9,510.1M959.4,404.3L715.1,493.2M959.4,404.3L709.5,476M959.4,404.3L705.1,458.4M959.4,404.3L701.9,440.5M959.4,404.3L700,422.4M959.4,404.3L699.4,404.3M959.4,404.3L700,386.2M959.4,404.3L701.9,368.1M959.4,404.3L705.1,350.3M959.4,404.3L709.5,332.6M959.4,404.3L715.1,315.4M959.4,404.3L721.9,298.6M959.4,404.3L729.8,282.2M959.4,404.3L738.9,266.5M959.4,404.3L749.1,251.5M959.4,404.3L760.2,237.2M959.4,404.3L772.4,223.7M959.4,404.3L785.4,211.1M959.4,404.3L799.3,199.4M959.4,404.3L814,188.8M959.4,404.3L829.4,179.1M959.4,404.3L845.4,170.6M959.4,404.3L862,163.2M959.4,404.3L879.1,157M959.4,404.3L896.5,152M959.4,404.3L914.3,148.3M959.4,404.3L932.2,145.7M959.4,404.3L950.3,144.5M959.4,404.3L968.5,144.5M959.4,404.3L986.6,145.7M959.4,404.3L1004.6,148.3M959.4,404.3L1022.3,152M959.4,404.3L1039.8,157M959.4,404.3L1056.8,163.2M959.4,404.3L1073.4,170.6M959.4,404.3L1089.4,179.1M959.4,404.3L1104.8,188.8M959.4,404.3L1119.5,199.4M959.4,404.3L1133.4,211.1M959.4,404.3L1146.4,223.7M959.4,404.3L1158.6,237.2M959.4,404.3L1169.8,251.5M959.4,404.3L1179.9,266.5M959.4,404.3L1189,282.2M959.4,404.3L1196.9,298.6M959.4,404.3L1203.7,315.4M959.4,404.3L1209.3,332.6M959.4,404.3L1213.7,350.3M959.4,404.3L1216.9,368.1M959.4,404.3L1218.8,386.2"/><ellipse cx="959.4" cy="404.3" rx="8.7" ry="8.7"/><ellipse cx="959.4" cy="404.3" rx="17.3" ry="17.3"/><ellipse cx="959.4" cy="404.3" rx="26" ry="26"/><ellipse cx="959.4" cy="404.3" rx="34.7" ry="34.7"/><ellipse cx="959.4" cy="404.3" rx="43.3" ry="43.3"/><ellipse cx="959.4" cy="404.3" rx="52" ry="52"/><ellipse cx="959.4" cy="404.3" rx="60.7" ry="60.7"/><ellipse cx="959.4" cy="404.3" rx="69.3" ry="69.3"/><ellipse cx="959.4" cy="404.3" rx="78" ry="78"/><ellipse cx="959.4" cy="404.3" rx="86.7" ry="86.7"/><ellipse cx="959.4" cy="404.3" rx="95.3" ry="95.3"/><ellipse cx="959.4" cy="404.3" rx="104" ry="104"/><ellipse cx="959.4" cy="404.3" rx="112.7" ry="112.7"/><ellipse cx="959.4" cy="404.3" rx="121.3" ry="121.3"/><ellipse cx="959.4" cy="404.3" rx="130" ry="130"/><ellipse cx="959.4" cy="404.3" rx="138.7" ry="138.7"/><ellipse cx="959.4" cy="404.3" rx="147.3" ry="147.3"/><ellipse cx="959.4" cy="404.3" rx="156" ry="156"/><ellipse cx="959.4" cy="404.3" rx="164.7" ry="164.7"/><ellipse cx="959.4" cy="404.3" rx="173.3" ry="173.3"/><ellipse cx="959.4" cy="404.3" rx="182" ry="182"/><ellipse cx="959.4" cy="404.3" rx="190.7" ry="190.7"/><ellipse cx="959.4" cy="404.3" rx="199.3" ry="199.3"/><ellipse cx="959.4" cy="404.3" rx="208" ry="208"/><ellipse cx="959.4" cy="404.3" rx="216.7" ry="216.7"/><ellipse cx="959.4" cy="404.3" rx="225.3" ry="225.3"/><ellipse cx="959.4" cy="404.3" rx="234" ry="234"/><ellipse cx="959.4" cy="404.3" rx="242.7" ry="242.7"/><ellipse cx="959.4" cy="404.3" rx="251.3" ry="251.3"/><ellipse cx="959.4" cy="404.3" rx="260" ry="260"/></g>
<g clip-path="url(#cpS)" stroke="#b04a18" stroke-width="1.3" fill="none" opacity="0.5"><path d="M959.4,404.3L1219.4,404.3M959.4,404.3L1218.9,421.3M959.4,404.3L1217.2,438.2M959.4,404.3L1214.4,455M959.4,404.3L1210.6,471.6M959.4,404.3L1205.6,487.9M959.4,404.3L1199.6,503.8M959.4,404.3L1192.6,519.3M959.4,404.3L1184.6,534.3M959.4,404.3L1175.6,548.8M959.4,404.3L1165.7,562.6M959.4,404.3L1154.9,575.7M959.4,404.3L1143.3,588.2M959.4,404.3L1130.8,599.8M959.4,404.3L1117.7,610.6M959.4,404.3L1103.9,620.5M959.4,404.3L1089.4,629.5M959.4,404.3L1074.4,637.5M959.4,404.3L1058.9,644.5M959.4,404.3L1043,650.5M959.4,404.3L1026.7,655.5M959.4,404.3L1010.1,659.3M959.4,404.3L993.4,662.1M959.4,404.3L976.4,663.8M959.4,404.3L959.4,664.3M959.4,404.3L942.4,663.8M959.4,404.3L925.5,662.1M959.4,404.3L908.7,659.3M959.4,404.3L892.1,655.5M959.4,404.3L875.8,650.5M959.4,404.3L859.9,644.5M959.4,404.3L844.4,637.5M959.4,404.3L829.4,629.5M959.4,404.3L815,620.5M959.4,404.3L801.1,610.6M959.4,404.3L788,599.8M959.4,404.3L775.6,588.2M959.4,404.3L763.9,575.7M959.4,404.3L753.1,562.6M959.4,404.3L743.2,548.8M959.4,404.3L734.2,534.3M959.4,404.3L726.2,519.3M959.4,404.3L719.2,503.8M959.4,404.3L713.2,487.9M959.4,404.3L708.3,471.6M959.4,404.3L704.4,455M959.4,404.3L701.6,438.2M959.4,404.3L700,421.3M959.4,404.3L699.4,404.3M959.4,404.3L700,387.3M959.4,404.3L701.6,370.4M959.4,404.3L704.4,353.6M959.4,404.3L708.3,337M959.4,404.3L713.2,320.7M959.4,404.3L719.2,304.8M959.4,404.3L726.2,289.3M959.4,404.3L734.2,274.3M959.4,404.3L743.2,259.9M959.4,404.3L753.1,246M959.4,404.3L763.9,232.9M959.4,404.3L775.6,220.5M959.4,404.3L788,208.8M959.4,404.3L801.1,198M959.4,404.3L815,188.1M959.4,404.3L829.4,179.1M959.4,404.3L844.4,171.1M959.4,404.3L859.9,164.1M959.4,404.3L875.8,158.1M959.4,404.3L892.1,153.2M959.4,404.3L908.7,149.3M959.4,404.3L925.5,146.5M959.4,404.3L942.4,144.9M959.4,404.3L959.4,144.3M959.4,404.3L976.4,144.9M959.4,404.3L993.4,146.5M959.4,404.3L1010.1,149.3M959.4,404.3L1026.7,153.2M959.4,404.3L1043,158.1M959.4,404.3L1058.9,164.1M959.4,404.3L1074.4,171.1M959.4,404.3L1089.4,179.1M959.4,404.3L1103.9,188.1M959.4,404.3L1117.7,198M959.4,404.3L1130.8,208.8M959.4,404.3L1143.3,220.5M959.4,404.3L1154.9,232.9M959.4,404.3L1165.7,246M959.4,404.3L1175.6,259.9M959.4,404.3L1184.6,274.3M959.4,404.3L1192.6,289.3M959.4,404.3L1199.6,304.8M959.4,404.3L1205.6,320.7M959.4,404.3L1210.6,337M959.4,404.3L1214.4,353.6M959.4,404.3L1217.2,370.4M959.4,404.3L1218.9,387.3"/><ellipse cx="959.4" cy="404.3" rx="8.1" ry="8.1"/><ellipse cx="959.4" cy="404.3" rx="16.2" ry="16.2"/><ellipse cx="959.4" cy="404.3" rx="24.4" ry="24.4"/><ellipse cx="959.4" cy="404.3" rx="32.5" ry="32.5"/><ellipse cx="959.4" cy="404.3" rx="40.6" ry="40.6"/><ellipse cx="959.4" cy="404.3" rx="48.8" ry="48.8"/><ellipse cx="959.4" cy="404.3" rx="56.9" ry="56.9"/><ellipse cx="959.4" cy="404.3" rx="65" ry="65"/><ellipse cx="959.4" cy="404.3" rx="73.1" ry="73.1"/><ellipse cx="959.4" cy="404.3" rx="81.2" ry="81.2"/><ellipse cx="959.4" cy="404.3" rx="89.4" ry="89.4"/><ellipse cx="959.4" cy="404.3" rx="97.5" ry="97.5"/><ellipse cx="959.4" cy="404.3" rx="105.6" ry="105.6"/><ellipse cx="959.4" cy="404.3" rx="113.8" ry="113.8"/><ellipse cx="959.4" cy="404.3" rx="121.9" ry="121.9"/><ellipse cx="959.4" cy="404.3" rx="130" ry="130"/><ellipse cx="959.4" cy="404.3" rx="138.1" ry="138.1"/><ellipse cx="959.4" cy="404.3" rx="146.2" ry="146.2"/><ellipse cx="959.4" cy="404.3" rx="154.4" ry="154.4"/><ellipse cx="959.4" cy="404.3" rx="162.5" ry="162.5"/><ellipse cx="959.4" cy="404.3" rx="170.6" ry="170.6"/><ellipse cx="959.4" cy="404.3" rx="178.8" ry="178.8"/><ellipse cx="959.4" cy="404.3" rx="186.9" ry="186.9"/><ellipse cx="959.4" cy="404.3" rx="195" ry="195"/><ellipse cx="959.4" cy="404.3" rx="203.1" ry="203.1"/><ellipse cx="959.4" cy="404.3" rx="211.2" ry="211.2"/><ellipse cx="959.4" cy="404.3" rx="219.4" ry="219.4"/><ellipse cx="959.4" cy="404.3" rx="227.5" ry="227.5"/><ellipse cx="959.4" cy="404.3" rx="235.6" ry="235.6"/><ellipse cx="959.4" cy="404.3" rx="243.8" ry="243.8"/><ellipse cx="959.4" cy="404.3" rx="251.9" ry="251.9"/><ellipse cx="959.4" cy="404.3" rx="260" ry="260"/></g>
<text transform="translate(859.5,154.5) scale(1.2,1)" font-size="46" fill="#111" style="font-style:italic;font-weight:bold">e</text>
<text x="888" y="135.5" font-size="31" fill="#111" style="font-style:italic">iαφ</text>
<line x1="1161" y1="554" x2="1232" y2="499" stroke="#8a4a9a" stroke-width="4"/>
<rect x="1214" y="139" width="301" height="6" fill="#ffffff" opacity="0.9"/>
<rect x="1512" y="139" width="4.5" height="76" fill="#ffffff" opacity="0.9"/>
<rect x="1512" y="584" width="4.5" height="88" fill="#e6fffa" opacity="0.9"/>
<rect x="1214" y="667" width="301" height="5" fill="#e6fffa" opacity="0.9"/>
<rect x="1216" y="143.5" width="297" height="525" fill="#9fcdbf"/>
<rect x="1216" y="143.5" width="16" height="525" fill="#4d7d6c"/>
<rect x="1216" y="174" width="16" height="452" fill="#777777"/>
<rect x="1232" y="143.5" width="8" height="525" fill="#aadccb"/>
<rect x="1505" y="143.5" width="8" height="525" fill="#8fd9c0" opacity="0.7"/>
<rect x="1216" y="662" width="297" height="6.5" fill="#8fc9b5"/>
<rect x="1216" y="662" width="16" height="6.5" fill="#4d7d6c"/>
<path d="M1512.5,211 L1758,287 L1758,516 L1512.5,581 Z" fill="#e53648"/>
<path d="M1373.5,176.5 A125,222 0 0 0 1373.5,620.5 C1384,620.5 1390,619 1396,616.5 L1424,605 L1472,594 L1513,587 L1513,218 L1488.5,209 L1451.5,192 C1430,184.5 1405,177.5 1373.5,176.5 Z" fill="#e53648" stroke="#e8558a" stroke-width="2.5" stroke-opacity="0.6"/>
<g opacity="0.9"><g transform="rotate(-18 1254 184)"><rect x="1247" y="176.5" width="7" height="15" rx="1.5" fill="#d6c43a"/><rect x="1254" y="177.5" width="5.5" height="14" rx="1.5" fill="#7fd6e6"/></g><g transform="rotate(6 1281.2 184)"><rect x="1272.2" y="176" width="9" height="16" rx="1.5" fill="#e8a820"/><rect x="1281.2" y="177" width="7.5" height="15" rx="1.5" fill="#7fd6e6"/></g><g transform="rotate(-12 1308.4 184)"><rect x="1300.4" y="175.5" width="8" height="17" rx="1.5" fill="#e0b030"/><rect x="1308.4" y="176.5" width="6.5" height="16" rx="1.5" fill="#7fd6e6"/></g><g transform="rotate(12 1335.6 184)"><rect x="1328.6" y="175" width="7" height="18" rx="1.5" fill="#e6b23a"/><rect x="1335.6" y="176" width="5.5" height="17" rx="1.5" fill="#7fd6e6"/></g><g transform="rotate(-6 1362.8 184)"><rect x="1353.8" y="176.5" width="9" height="15" rx="1.5" fill="#d9b648"/><rect x="1362.8" y="177.5" width="7.5" height="14" rx="1.5" fill="#7fd6e6"/></g><g transform="rotate(18 1390 184)"><rect x="1382" y="176" width="8" height="16" rx="1.5" fill="#c8c84a"/><rect x="1390" y="177" width="6.5" height="15" rx="1.5" fill="#7fd6e6"/></g><g transform="rotate(0 1417.2 184)"><rect x="1410.2" y="175.5" width="7" height="17" rx="1.5" fill="#c2cf45"/><rect x="1417.2" y="176.5" width="5.5" height="16" rx="1.5" fill="#7fd6e6"/></g><g transform="rotate(-18 1444.4 184)"><rect x="1435.4" y="175" width="9" height="18" rx="1.5" fill="#b8d050"/><rect x="1444.4" y="176" width="7.5" height="17" rx="1.5" fill="#7fd6e6"/></g><g transform="rotate(6 1471.6 184)"><rect x="1463.6" y="176.5" width="8" height="15" rx="1.5" fill="#d6c43a"/><rect x="1471.6" y="177.5" width="6.5" height="14" rx="1.5" fill="#7fd6e6"/></g><g transform="rotate(-12 1498.8 184)"><rect x="1491.8" y="176" width="7" height="16" rx="1.5" fill="#e8a820"/><rect x="1498.8" y="177" width="5.5" height="15" rx="1.5" fill="#7fd6e6"/></g><g transform="rotate(-6 1255 233)"><rect x="1247" y="225" width="8" height="16" rx="1.5" fill="#e6b23a"/><rect x="1255" y="226" width="6.5" height="15" rx="1.5" fill="#7ee0d2"/></g><g transform="rotate(18 1282.2 233)"><rect x="1275.2" y="224.5" width="7" height="17" rx="1.5" fill="#d9b648"/><rect x="1282.2" y="225.5" width="5.5" height="16" rx="1.5" fill="#7ee0d2"/></g><g transform="rotate(0 1309.4 233)"><rect x="1300.4" y="224" width="9" height="18" rx="1.5" fill="#c8c84a"/><rect x="1309.4" y="225" width="7.5" height="17" rx="1.5" fill="#7ee0d2"/></g><g transform="rotate(-18 1336.6 233)"><rect x="1328.6" y="225.5" width="8" height="15" rx="1.5" fill="#c2cf45"/><rect x="1336.6" y="226.5" width="6.5" height="14" rx="1.5" fill="#7ee0d2"/></g><g transform="rotate(6 1363.8 233)"><rect x="1356.8" y="225" width="7" height="16" rx="1.5" fill="#b8d050"/><rect x="1363.8" y="226" width="5.5" height="15" rx="1.5" fill="#7ee0d2"/></g><g transform="rotate(-12 1391 233)"><rect x="1382" y="224.5" width="9" height="17" rx="1.5" fill="#d6c43a"/><rect x="1391" y="225.5" width="7.5" height="16" rx="1.5" fill="#7ee0d2"/></g><g transform="rotate(12 1418.2 233)"><rect x="1410.2" y="224" width="8" height="18" rx="1.5" fill="#e8a820"/><rect x="1418.2" y="225" width="6.5" height="17" rx="1.5" fill="#7ee0d2"/></g><g transform="rotate(-6 1445.4 233)"><rect x="1438.4" y="225.5" width="7" height="15" rx="1.5" fill="#e0b030"/><rect x="1445.4" y="226.5" width="5.5" height="14" rx="1.5" fill="#7ee0d2"/></g><g transform="rotate(18 1472.6 233)"><rect x="1463.6" y="225" width="9" height="16" rx="1.5" fill="#e6b23a"/><rect x="1472.6" y="226" width="7.5" height="15" rx="1.5" fill="#7ee0d2"/></g><g transform="rotate(0 1499.8 233)"><rect x="1491.8" y="224.5" width="8" height="17" rx="1.5" fill="#d9b648"/><rect x="1499.8" y="225.5" width="6.5" height="16" rx="1.5" fill="#7ee0d2"/></g><g transform="rotate(6 1256 281)"><rect x="1247" y="272.5" width="9" height="17" rx="1.5" fill="#c2cf45"/><rect x="1256" y="273.5" width="7.5" height="16" rx="1.5" fill="#86d8c8"/></g><g transform="rotate(-12 1283.2 281)"><rect x="1275.2" y="272" width="8" height="18" rx="1.5" fill="#b8d050"/><rect x="1283.2" y="273" width="6.5" height="17" rx="1.5" fill="#86d8c8"/></g><g transform="rotate(12 1310.4 281)"><rect x="1303.4" y="273.5" width="7" height="15" rx="1.5" fill="#d6c43a"/><rect x="1310.4" y="274.5" width="5.5" height="14" rx="1.5" fill="#86d8c8"/></g><g transform="rotate(-6 1337.6 281)"><rect x="1328.6" y="273" width="9" height="16" rx="1.5" fill="#e8a820"/><rect x="1337.6" y="274" width="7.5" height="15" rx="1.5" fill="#86d8c8"/></g><g transform="rotate(18 1364.8 281)"><rect x="1356.8" y="272.5" width="8" height="17" rx="1.5" fill="#e0b030"/><rect x="1364.8" y="273.5" width="6.5" height="16" rx="1.5" fill="#86d8c8"/></g><g transform="rotate(0 1392 281)"><rect x="1385" y="272" width="7" height="18" rx="1.5" fill="#e6b23a"/><rect x="1392" y="273" width="5.5" height="17" rx="1.5" fill="#86d8c8"/></g><g transform="rotate(-18 1419.2 281)"><rect x="1410.2" y="273.5" width="9" height="15" rx="1.5" fill="#d9b648"/><rect x="1419.2" y="274.5" width="7.5" height="14" rx="1.5" fill="#86d8c8"/></g><g transform="rotate(6 1446.4 281)"><rect x="1438.4" y="273" width="8" height="16" rx="1.5" fill="#c8c84a"/><rect x="1446.4" y="274" width="6.5" height="15" rx="1.5" fill="#86d8c8"/></g><g transform="rotate(-12 1473.6 281)"><rect x="1466.6" y="272.5" width="7" height="17" rx="1.5" fill="#c2cf45"/><rect x="1473.6" y="273.5" width="5.5" height="16" rx="1.5" fill="#86d8c8"/></g><g transform="rotate(12 1500.8 281)"><rect x="1491.8" y="272" width="9" height="18" rx="1.5" fill="#b8d050"/><rect x="1500.8" y="273" width="7.5" height="17" rx="1.5" fill="#86d8c8"/></g><g transform="rotate(18 1257 330)"><rect x="1250" y="321" width="7" height="18" rx="1.5" fill="#e8a820"/><rect x="1257" y="322" width="5.5" height="17" rx="1.5" fill="#8fc8ee"/></g><g transform="rotate(0 1284.2 330)"><rect x="1275.2" y="322.5" width="9" height="15" rx="1.5" fill="#e0b030"/><rect x="1284.2" y="323.5" width="7.5" height="14" rx="1.5" fill="#8fc8ee"/></g><g transform="rotate(-18 1311.4 330)"><rect x="1303.4" y="322" width="8" height="16" rx="1.5" fill="#e6b23a"/><rect x="1311.4" y="323" width="6.5" height="15" rx="1.5" fill="#8fc8ee"/></g><g transform="rotate(6 1338.6 330)"><rect x="1331.6" y="321.5" width="7" height="17" rx="1.5" fill="#d9b648"/><rect x="1338.6" y="322.5" width="5.5" height="16" rx="1.5" fill="#8fc8ee"/></g><g transform="rotate(-12 1365.8 330)"><rect x="1356.8" y="321" width="9" height="18" rx="1.5" fill="#c8c84a"/><rect x="1365.8" y="322" width="7.5" height="17" rx="1.5" fill="#8fc8ee"/></g><g transform="rotate(12 1393 330)"><rect x="1385" y="322.5" width="8" height="15" rx="1.5" fill="#c2cf45"/><rect x="1393" y="323.5" width="6.5" height="14" rx="1.5" fill="#8fc8ee"/></g><g transform="rotate(-6 1420.2 330)"><rect x="1413.2" y="322" width="7" height="16" rx="1.5" fill="#b8d050"/><rect x="1420.2" y="323" width="5.5" height="15" rx="1.5" fill="#8fc8ee"/></g><g transform="rotate(18 1447.4 330)"><rect x="1438.4" y="321.5" width="9" height="17" rx="1.5" fill="#d6c43a"/><rect x="1447.4" y="322.5" width="7.5" height="16" rx="1.5" fill="#8fc8ee"/></g><g transform="rotate(0 1474.6 330)"><rect x="1466.6" y="321" width="8" height="18" rx="1.5" fill="#e8a820"/><rect x="1474.6" y="322" width="6.5" height="17" rx="1.5" fill="#8fc8ee"/></g><g transform="rotate(-18 1501.8 330)"><rect x="1494.8" y="322.5" width="7" height="15" rx="1.5" fill="#e0b030"/><rect x="1501.8" y="323.5" width="5.5" height="14" rx="1.5" fill="#8fc8ee"/></g><g transform="rotate(-12 1258 378)"><rect x="1250" y="370.5" width="8" height="15" rx="1.5" fill="#d9b648"/><rect x="1258" y="371.5" width="6.5" height="14" rx="1.5" fill="#a0c8e8"/></g><g transform="rotate(12 1285.2 378)"><rect x="1278.2" y="370" width="7" height="16" rx="1.5" fill="#c8c84a"/><rect x="1285.2" y="371" width="5.5" height="15" rx="1.5" fill="#a0c8e8"/></g><g transform="rotate(-6 1312.4 378)"><rect x="1303.4" y="369.5" width="9" height="17" rx="1.5" fill="#c2cf45"/><rect x="1312.4" y="370.5" width="7.5" height="16" rx="1.5" fill="#a0c8e8"/></g><g transform="rotate(18 1339.6 378)"><rect x="1331.6" y="369" width="8" height="18" rx="1.5" fill="#b8d050"/><rect x="1339.6" y="370" width="6.5" height="17" rx="1.5" fill="#a0c8e8"/></g><g transform="rotate(0 1366.8 378)"><rect x="1359.8" y="370.5" width="7" height="15" rx="1.5" fill="#d6c43a"/><rect x="1366.8" y="371.5" width="5.5" height="14" rx="1.5" fill="#a0c8e8"/></g><g transform="rotate(-18 1394 378)"><rect x="1385" y="370" width="9" height="16" rx="1.5" fill="#e8a820"/><rect x="1394" y="371" width="7.5" height="15" rx="1.5" fill="#a0c8e8"/></g><g transform="rotate(6 1421.2 378)"><rect x="1413.2" y="369.5" width="8" height="17" rx="1.5" fill="#e0b030"/><rect x="1421.2" y="370.5" width="6.5" height="16" rx="1.5" fill="#a0c8e8"/></g><g transform="rotate(-12 1448.4 378)"><rect x="1441.4" y="369" width="7" height="18" rx="1.5" fill="#e6b23a"/><rect x="1448.4" y="370" width="5.5" height="17" rx="1.5" fill="#a0c8e8"/></g><g transform="rotate(12 1475.6 378)"><rect x="1466.6" y="370.5" width="9" height="15" rx="1.5" fill="#d9b648"/><rect x="1475.6" y="371.5" width="7.5" height="14" rx="1.5" fill="#a0c8e8"/></g><g transform="rotate(-6 1502.8 378)"><rect x="1494.8" y="370" width="8" height="16" rx="1.5" fill="#c8c84a"/><rect x="1502.8" y="371" width="6.5" height="15" rx="1.5" fill="#a0c8e8"/></g><g transform="rotate(0 1254 427.5)"><rect x="1245" y="419.5" width="9" height="16" rx="1.5" fill="#b8d050"/><rect x="1254" y="420.5" width="7.5" height="15" rx="1.5" fill="#7fd6e6"/></g><g transform="rotate(-18 1281.2 427.5)"><rect x="1273.2" y="419" width="8" height="17" rx="1.5" fill="#d6c43a"/><rect x="1281.2" y="420" width="6.5" height="16" rx="1.5" fill="#7fd6e6"/></g><g transform="rotate(6 1308.4 427.5)"><rect x="1301.4" y="418.5" width="7" height="18" rx="1.5" fill="#e8a820"/><rect x="1308.4" y="419.5" width="5.5" height="17" rx="1.5" fill="#7fd6e6"/></g><g transform="rotate(-12 1335.6 427.5)"><rect x="1326.6" y="420" width="9" height="15" rx="1.5" fill="#e0b030"/><rect x="1335.6" y="421" width="7.5" height="14" rx="1.5" fill="#7fd6e6"/></g><g transform="rotate(12 1362.8 427.5)"><rect x="1354.8" y="419.5" width="8" height="16" rx="1.5" fill="#e6b23a"/><rect x="1362.8" y="420.5" width="6.5" height="15" rx="1.5" fill="#7fd6e6"/></g><g transform="rotate(-6 1390 427.5)"><rect x="1383" y="419" width="7" height="17" rx="1.5" fill="#d9b648"/><rect x="1390" y="420" width="5.5" height="16" rx="1.5" fill="#7fd6e6"/></g><g transform="rotate(18 1417.2 427.5)"><rect x="1408.2" y="418.5" width="9" height="18" rx="1.5" fill="#c8c84a"/><rect x="1417.2" y="419.5" width="7.5" height="17" rx="1.5" fill="#7fd6e6"/></g><g transform="rotate(0 1444.4 427.5)"><rect x="1436.4" y="420" width="8" height="15" rx="1.5" fill="#c2cf45"/><rect x="1444.4" y="421" width="6.5" height="14" rx="1.5" fill="#7fd6e6"/></g><g transform="rotate(-18 1471.6 427.5)"><rect x="1464.6" y="419.5" width="7" height="16" rx="1.5" fill="#b8d050"/><rect x="1471.6" y="420.5" width="5.5" height="15" rx="1.5" fill="#7fd6e6"/></g><g transform="rotate(6 1498.8 427.5)"><rect x="1489.8" y="419" width="9" height="17" rx="1.5" fill="#d6c43a"/><rect x="1498.8" y="420" width="7.5" height="16" rx="1.5" fill="#7fd6e6"/></g><g transform="rotate(12 1255 480)"><rect x="1248" y="471.5" width="7" height="17" rx="1.5" fill="#e0b030"/><rect x="1255" y="472.5" width="5.5" height="16" rx="1.5" fill="#7ee0d2"/></g><g transform="rotate(-6 1282.2 480)"><rect x="1273.2" y="471" width="9" height="18" rx="1.5" fill="#e6b23a"/><rect x="1282.2" y="472" width="7.5" height="17" rx="1.5" fill="#7ee0d2"/></g><g transform="rotate(18 1309.4 480)"><rect x="1301.4" y="472.5" width="8" height="15" rx="1.5" fill="#d9b648"/><rect x="1309.4" y="473.5" width="6.5" height="14" rx="1.5" fill="#7ee0d2"/></g><g transform="rotate(0 1336.6 480)"><rect x="1329.6" y="472" width="7" height="16" rx="1.5" fill="#c8c84a"/><rect x="1336.6" y="473" width="5.5" height="15" rx="1.5" fill="#7ee0d2"/></g><g transform="rotate(-18 1363.8 480)"><rect x="1354.8" y="471.5" width="9" height="17" rx="1.5" fill="#c2cf45"/><rect x="1363.8" y="472.5" width="7.5" height="16" rx="1.5" fill="#7ee0d2"/></g><g transform="rotate(6 1391 480)"><rect x="1383" y="471" width="8" height="18" rx="1.5" fill="#b8d050"/><rect x="1391" y="472" width="6.5" height="17" rx="1.5" fill="#7ee0d2"/></g><g transform="rotate(-12 1418.2 480)"><rect x="1411.2" y="472.5" width="7" height="15" rx="1.5" fill="#d6c43a"/><rect x="1418.2" y="473.5" width="5.5" height="14" rx="1.5" fill="#7ee0d2"/></g><g transform="rotate(12 1445.4 480)"><rect x="1436.4" y="472" width="9" height="16" rx="1.5" fill="#e8a820"/><rect x="1445.4" y="473" width="7.5" height="15" rx="1.5" fill="#7ee0d2"/></g><g transform="rotate(-6 1472.6 480)"><rect x="1464.6" y="471.5" width="8" height="17" rx="1.5" fill="#e0b030"/><rect x="1472.6" y="472.5" width="6.5" height="16" rx="1.5" fill="#7ee0d2"/></g><g transform="rotate(18 1499.8 480)"><rect x="1492.8" y="471" width="7" height="18" rx="1.5" fill="#e6b23a"/><rect x="1499.8" y="472" width="5.5" height="17" rx="1.5" fill="#7ee0d2"/></g><g transform="rotate(-18 1256 530)"><rect x="1248" y="521" width="8" height="18" rx="1.5" fill="#c8c84a"/><rect x="1256" y="522" width="6.5" height="17" rx="1.5" fill="#86d8c8"/></g><g transform="rotate(6 1283.2 530)"><rect x="1276.2" y="522.5" width="7" height="15" rx="1.5" fill="#c2cf45"/><rect x="1283.2" y="523.5" width="5.5" height="14" rx="1.5" fill="#86d8c8"/></g><g transform="rotate(-12 1310.4 530)"><rect x="1301.4" y="522" width="9" height="16" rx="1.5" fill="#b8d050"/><rect x="1310.4" y="523" width="7.5" height="15" rx="1.5" fill="#86d8c8"/></g><g transform="rotate(12 1337.6 530)"><rect x="1329.6" y="521.5" width="8" height="17" rx="1.5" fill="#d6c43a"/><rect x="1337.6" y="522.5" width="6.5" height="16" rx="1.5" fill="#86d8c8"/></g><g transform="rotate(-6 1364.8 530)"><rect x="1357.8" y="521" width="7" height="18" rx="1.5" fill="#e8a820"/><rect x="1364.8" y="522" width="5.5" height="17" rx="1.5" fill="#86d8c8"/></g><g transform="rotate(18 1392 530)"><rect x="1383" y="522.5" width="9" height="15" rx="1.5" fill="#e0b030"/><rect x="1392" y="523.5" width="7.5" height="14" rx="1.5" fill="#86d8c8"/></g><g transform="rotate(0 1419.2 530)"><rect x="1411.2" y="522" width="8" height="16" rx="1.5" fill="#e6b23a"/><rect x="1419.2" y="523" width="6.5" height="15" rx="1.5" fill="#86d8c8"/></g><g transform="rotate(-18 1446.4 530)"><rect x="1439.4" y="521.5" width="7" height="17" rx="1.5" fill="#d9b648"/><rect x="1446.4" y="522.5" width="5.5" height="16" rx="1.5" fill="#86d8c8"/></g><g transform="rotate(6 1473.6 530)"><rect x="1464.6" y="521" width="9" height="18" rx="1.5" fill="#c8c84a"/><rect x="1473.6" y="522" width="7.5" height="17" rx="1.5" fill="#86d8c8"/></g><g transform="rotate(-12 1500.8 530)"><rect x="1492.8" y="522.5" width="8" height="15" rx="1.5" fill="#c2cf45"/><rect x="1500.8" y="523.5" width="6.5" height="14" rx="1.5" fill="#86d8c8"/></g><g transform="rotate(-6 1257 584)"><rect x="1248" y="576.5" width="9" height="15" rx="1.5" fill="#d6c43a"/><rect x="1257" y="577.5" width="7.5" height="14" rx="1.5" fill="#8fc8ee"/></g><g transform="rotate(18 1284.2 584)"><rect x="1276.2" y="576" width="8" height="16" rx="1.5" fill="#e8a820"/><rect x="1284.2" y="577" width="6.5" height="15" rx="1.5" fill="#8fc8ee"/></g><g transform="rotate(0 1311.4 584)"><rect x="1304.4" y="575.5" width="7" height="17" rx="1.5" fill="#e0b030"/><rect x="1311.4" y="576.5" width="5.5" height="16" rx="1.5" fill="#8fc8ee"/></g><g transform="rotate(-18 1338.6 584)"><rect x="1329.6" y="575" width="9" height="18" rx="1.5" fill="#e6b23a"/><rect x="1338.6" y="576" width="7.5" height="17" rx="1.5" fill="#8fc8ee"/></g><g transform="rotate(6 1365.8 584)"><rect x="1357.8" y="576.5" width="8" height="15" rx="1.5" fill="#d9b648"/><rect x="1365.8" y="577.5" width="6.5" height="14" rx="1.5" fill="#8fc8ee"/></g><g transform="rotate(-12 1393 584)"><rect x="1386" y="576" width="7" height="16" rx="1.5" fill="#c8c84a"/><rect x="1393" y="577" width="5.5" height="15" rx="1.5" fill="#8fc8ee"/></g><g transform="rotate(12 1420.2 584)"><rect x="1411.2" y="575.5" width="9" height="17" rx="1.5" fill="#c2cf45"/><rect x="1420.2" y="576.5" width="7.5" height="16" rx="1.5" fill="#8fc8ee"/></g><g transform="rotate(-6 1447.4 584)"><rect x="1439.4" y="575" width="8" height="18" rx="1.5" fill="#b8d050"/><rect x="1447.4" y="576" width="6.5" height="17" rx="1.5" fill="#8fc8ee"/></g><g transform="rotate(18 1474.6 584)"><rect x="1467.6" y="576.5" width="7" height="15" rx="1.5" fill="#d6c43a"/><rect x="1474.6" y="577.5" width="5.5" height="14" rx="1.5" fill="#8fc8ee"/></g><g transform="rotate(0 1501.8 584)"><rect x="1492.8" y="576" width="9" height="16" rx="1.5" fill="#e8a820"/><rect x="1501.8" y="577" width="7.5" height="15" rx="1.5" fill="#8fc8ee"/></g><g transform="rotate(6 1258 631.5)"><rect x="1251" y="623.5" width="7" height="16" rx="1.5" fill="#e6b23a"/><rect x="1258" y="624.5" width="5.5" height="15" rx="1.5" fill="#a0c8e8"/></g><g transform="rotate(-12 1285.2 631.5)"><rect x="1276.2" y="623" width="9" height="17" rx="1.5" fill="#d9b648"/><rect x="1285.2" y="624" width="7.5" height="16" rx="1.5" fill="#a0c8e8"/></g><g transform="rotate(12 1312.4 631.5)"><rect x="1304.4" y="622.5" width="8" height="18" rx="1.5" fill="#c8c84a"/><rect x="1312.4" y="623.5" width="6.5" height="17" rx="1.5" fill="#a0c8e8"/></g><g transform="rotate(-6 1339.6 631.5)"><rect x="1332.6" y="624" width="7" height="15" rx="1.5" fill="#c2cf45"/><rect x="1339.6" y="625" width="5.5" height="14" rx="1.5" fill="#a0c8e8"/></g><g transform="rotate(18 1366.8 631.5)"><rect x="1357.8" y="623.5" width="9" height="16" rx="1.5" fill="#b8d050"/><rect x="1366.8" y="624.5" width="7.5" height="15" rx="1.5" fill="#a0c8e8"/></g><g transform="rotate(0 1394 631.5)"><rect x="1386" y="623" width="8" height="17" rx="1.5" fill="#d6c43a"/><rect x="1394" y="624" width="6.5" height="16" rx="1.5" fill="#a0c8e8"/></g><g transform="rotate(-18 1421.2 631.5)"><rect x="1414.2" y="622.5" width="7" height="18" rx="1.5" fill="#e8a820"/><rect x="1421.2" y="623.5" width="5.5" height="17" rx="1.5" fill="#a0c8e8"/></g><g transform="rotate(6 1448.4 631.5)"><rect x="1439.4" y="624" width="9" height="15" rx="1.5" fill="#e0b030"/><rect x="1448.4" y="625" width="7.5" height="14" rx="1.5" fill="#a0c8e8"/></g><g transform="rotate(-12 1475.6 631.5)"><rect x="1467.6" y="623.5" width="8" height="16" rx="1.5" fill="#e6b23a"/><rect x="1475.6" y="624.5" width="6.5" height="15" rx="1.5" fill="#a0c8e8"/></g><g transform="rotate(12 1502.8 631.5)"><rect x="1495.8" y="623" width="7" height="17" rx="1.5" fill="#d9b648"/><rect x="1502.8" y="624" width="5.5" height="16" rx="1.5" fill="#a0c8e8"/></g></g>
<g clip-path="url(#cpSpot)"><rect x="1240" y="170" width="280" height="460" fill="#e53648"/>
<rect x="1240" y="219" width="273" height="28" fill="#c9474a" opacity="0.85"/>
<rect x="1240" y="267" width="273" height="28" fill="#c9474a" opacity="0.85"/>
<rect x="1240" y="316" width="273" height="28" fill="#c9474a" opacity="0.85"/>
<rect x="1240" y="364" width="273" height="28" fill="#c9474a" opacity="0.85"/>
<rect x="1240" y="413.5" width="273" height="28" fill="#c9474a" opacity="0.85"/>
<rect x="1240" y="466" width="273" height="28" fill="#c9474a" opacity="0.85"/>
<rect x="1240" y="516" width="273" height="28" fill="#c9474a" opacity="0.85"/>
<rect x="1240" y="570" width="273" height="28" fill="#c9474a" opacity="0.85"/>
<g opacity="0.92"><g transform="rotate(-36 1254 184)"><rect x="1246" y="175.5" width="9" height="17" rx="2.5" fill="#f08a84"/><rect x="1255.5" y="176.5" width="7" height="15" rx="2.5" fill="#f7b2a6"/></g><g transform="rotate(12 1281.2 184)"><rect x="1271.2" y="175" width="11" height="18" rx="2.5" fill="#e59a7a"/><rect x="1282.7" y="176" width="9" height="16" rx="2.5" fill="#e46a6e"/></g><g transform="rotate(-24 1308.4 184)"><rect x="1299.4" y="174.5" width="10" height="19" rx="2.5" fill="#f07c80"/><rect x="1309.9" y="175.5" width="8" height="17" rx="2.5" fill="#f4a89c"/></g><g transform="rotate(24 1335.6 184)"><rect x="1327.6" y="174" width="9" height="20" rx="2.5" fill="#e8a488"/><rect x="1337.1" y="175" width="7" height="18" rx="2.5" fill="#dd6c70"/></g><g transform="rotate(-12 1362.8 184)"><rect x="1352.8" y="175.5" width="11" height="17" rx="2.5" fill="#f29a90"/><rect x="1364.3" y="176.5" width="9" height="15" rx="2.5" fill="#f7b2a6"/></g><g transform="rotate(36 1390 184)"><rect x="1381" y="175" width="10" height="18" rx="2.5" fill="#ee7f7a"/><rect x="1391.5" y="176" width="8" height="16" rx="2.5" fill="#e46a6e"/></g><g transform="rotate(0 1417.2 184)"><rect x="1409.2" y="174.5" width="9" height="19" rx="2.5" fill="#f08a84"/><rect x="1418.7" y="175.5" width="7" height="17" rx="2.5" fill="#f4a89c"/></g><g transform="rotate(-36 1444.4 184)"><rect x="1434.4" y="174" width="11" height="20" rx="2.5" fill="#e59a7a"/><rect x="1445.9" y="175" width="9" height="18" rx="2.5" fill="#dd6c70"/></g><g transform="rotate(12 1471.6 184)"><rect x="1462.6" y="175.5" width="10" height="17" rx="2.5" fill="#f07c80"/><rect x="1473.1" y="176.5" width="8" height="15" rx="2.5" fill="#f7b2a6"/></g><g transform="rotate(-24 1498.8 184)"><rect x="1490.8" y="175" width="9" height="18" rx="2.5" fill="#e8a488"/><rect x="1500.3" y="176" width="7" height="16" rx="2.5" fill="#e46a6e"/></g><g transform="rotate(-12 1255 233)"><rect x="1246" y="224" width="10" height="18" rx="2.5" fill="#ee7f7a"/><rect x="1256.5" y="225" width="8" height="16" rx="2.5" fill="#dd6c70"/></g><g transform="rotate(36 1282.2 233)"><rect x="1274.2" y="223.5" width="9" height="19" rx="2.5" fill="#f08a84"/><rect x="1283.7" y="224.5" width="7" height="17" rx="2.5" fill="#f7b2a6"/></g><g transform="rotate(0 1309.4 233)"><rect x="1299.4" y="223" width="11" height="20" rx="2.5" fill="#e59a7a"/><rect x="1310.9" y="224" width="9" height="18" rx="2.5" fill="#e46a6e"/></g><g transform="rotate(-36 1336.6 233)"><rect x="1327.6" y="224.5" width="10" height="17" rx="2.5" fill="#f07c80"/><rect x="1338.1" y="225.5" width="8" height="15" rx="2.5" fill="#f4a89c"/></g><g transform="rotate(12 1363.8 233)"><rect x="1355.8" y="224" width="9" height="18" rx="2.5" fill="#e8a488"/><rect x="1365.3" y="225" width="7" height="16" rx="2.5" fill="#dd6c70"/></g><g transform="rotate(-24 1391 233)"><rect x="1381" y="223.5" width="11" height="19" rx="2.5" fill="#f29a90"/><rect x="1392.5" y="224.5" width="9" height="17" rx="2.5" fill="#f7b2a6"/></g><g transform="rotate(24 1418.2 233)"><rect x="1409.2" y="223" width="10" height="20" rx="2.5" fill="#ee7f7a"/><rect x="1419.7" y="224" width="8" height="18" rx="2.5" fill="#e46a6e"/></g><g transform="rotate(-12 1445.4 233)"><rect x="1437.4" y="224.5" width="9" height="17" rx="2.5" fill="#f08a84"/><rect x="1446.9" y="225.5" width="7" height="15" rx="2.5" fill="#f4a89c"/></g><g transform="rotate(36 1472.6 233)"><rect x="1462.6" y="224" width="11" height="18" rx="2.5" fill="#e59a7a"/><rect x="1474.1" y="225" width="9" height="16" rx="2.5" fill="#dd6c70"/></g><g transform="rotate(0 1499.8 233)"><rect x="1490.8" y="223.5" width="10" height="19" rx="2.5" fill="#f07c80"/><rect x="1501.3" y="224.5" width="8" height="17" rx="2.5" fill="#f7b2a6"/></g><g transform="rotate(12 1256 281)"><rect x="1246" y="271.5" width="11" height="19" rx="2.5" fill="#f29a90"/><rect x="1257.5" y="272.5" width="9" height="17" rx="2.5" fill="#f4a89c"/></g><g transform="rotate(-24 1283.2 281)"><rect x="1274.2" y="271" width="10" height="20" rx="2.5" fill="#ee7f7a"/><rect x="1284.7" y="272" width="8" height="18" rx="2.5" fill="#dd6c70"/></g><g transform="rotate(24 1310.4 281)"><rect x="1302.4" y="272.5" width="9" height="17" rx="2.5" fill="#f08a84"/><rect x="1311.9" y="273.5" width="7" height="15" rx="2.5" fill="#f7b2a6"/></g><g transform="rotate(-12 1337.6 281)"><rect x="1327.6" y="272" width="11" height="18" rx="2.5" fill="#e59a7a"/><rect x="1339.1" y="273" width="9" height="16" rx="2.5" fill="#e46a6e"/></g><g transform="rotate(36 1364.8 281)"><rect x="1355.8" y="271.5" width="10" height="19" rx="2.5" fill="#f07c80"/><rect x="1366.3" y="272.5" width="8" height="17" rx="2.5" fill="#f4a89c"/></g><g transform="rotate(0 1392 281)"><rect x="1384" y="271" width="9" height="20" rx="2.5" fill="#e8a488"/><rect x="1393.5" y="272" width="7" height="18" rx="2.5" fill="#dd6c70"/></g><g transform="rotate(-36 1419.2 281)"><rect x="1409.2" y="272.5" width="11" height="17" rx="2.5" fill="#f29a90"/><rect x="1420.7" y="273.5" width="9" height="15" rx="2.5" fill="#f7b2a6"/></g><g transform="rotate(12 1446.4 281)"><rect x="1437.4" y="272" width="10" height="18" rx="2.5" fill="#ee7f7a"/><rect x="1447.9" y="273" width="8" height="16" rx="2.5" fill="#e46a6e"/></g><g transform="rotate(-24 1473.6 281)"><rect x="1465.6" y="271.5" width="9" height="19" rx="2.5" fill="#f08a84"/><rect x="1475.1" y="272.5" width="7" height="17" rx="2.5" fill="#f4a89c"/></g><g transform="rotate(24 1500.8 281)"><rect x="1490.8" y="271" width="11" height="20" rx="2.5" fill="#e59a7a"/><rect x="1502.3" y="272" width="9" height="18" rx="2.5" fill="#dd6c70"/></g><g transform="rotate(36 1257 330)"><rect x="1249" y="320" width="9" height="20" rx="2.5" fill="#e8a488"/><rect x="1258.5" y="321" width="7" height="18" rx="2.5" fill="#e46a6e"/></g><g transform="rotate(0 1284.2 330)"><rect x="1274.2" y="321.5" width="11" height="17" rx="2.5" fill="#f29a90"/><rect x="1285.7" y="322.5" width="9" height="15" rx="2.5" fill="#f4a89c"/></g><g transform="rotate(-36 1311.4 330)"><rect x="1302.4" y="321" width="10" height="18" rx="2.5" fill="#ee7f7a"/><rect x="1312.9" y="322" width="8" height="16" rx="2.5" fill="#dd6c70"/></g><g transform="rotate(12 1338.6 330)"><rect x="1330.6" y="320.5" width="9" height="19" rx="2.5" fill="#f08a84"/><rect x="1340.1" y="321.5" width="7" height="17" rx="2.5" fill="#f7b2a6"/></g><g transform="rotate(-24 1365.8 330)"><rect x="1355.8" y="320" width="11" height="20" rx="2.5" fill="#e59a7a"/><rect x="1367.3" y="321" width="9" height="18" rx="2.5" fill="#e46a6e"/></g><g transform="rotate(24 1393 330)"><rect x="1384" y="321.5" width="10" height="17" rx="2.5" fill="#f07c80"/><rect x="1394.5" y="322.5" width="8" height="15" rx="2.5" fill="#f4a89c"/></g><g transform="rotate(-12 1420.2 330)"><rect x="1412.2" y="321" width="9" height="18" rx="2.5" fill="#e8a488"/><rect x="1421.7" y="322" width="7" height="16" rx="2.5" fill="#dd6c70"/></g><g transform="rotate(36 1447.4 330)"><rect x="1437.4" y="320.5" width="11" height="19" rx="2.5" fill="#f29a90"/><rect x="1448.9" y="321.5" width="9" height="17" rx="2.5" fill="#f7b2a6"/></g><g transform="rotate(0 1474.6 330)"><rect x="1465.6" y="320" width="10" height="20" rx="2.5" fill="#ee7f7a"/><rect x="1476.1" y="321" width="8" height="18" rx="2.5" fill="#e46a6e"/></g><g transform="rotate(-36 1501.8 330)"><rect x="1493.8" y="321.5" width="9" height="17" rx="2.5" fill="#f08a84"/><rect x="1503.3" y="322.5" width="7" height="15" rx="2.5" fill="#f4a89c"/></g><g transform="rotate(-24 1258 378)"><rect x="1249" y="369.5" width="10" height="17" rx="2.5" fill="#f07c80"/><rect x="1259.5" y="370.5" width="8" height="15" rx="2.5" fill="#f7b2a6"/></g><g transform="rotate(24 1285.2 378)"><rect x="1277.2" y="369" width="9" height="18" rx="2.5" fill="#e8a488"/><rect x="1286.7" y="370" width="7" height="16" rx="2.5" fill="#e46a6e"/></g><g transform="rotate(-12 1312.4 378)"><rect x="1302.4" y="368.5" width="11" height="19" rx="2.5" fill="#f29a90"/><rect x="1313.9" y="369.5" width="9" height="17" rx="2.5" fill="#f4a89c"/></g><g transform="rotate(36 1339.6 378)"><rect x="1330.6" y="368" width="10" height="20" rx="2.5" fill="#ee7f7a"/><rect x="1341.1" y="369" width="8" height="18" rx="2.5" fill="#dd6c70"/></g><g transform="rotate(0 1366.8 378)"><rect x="1358.8" y="369.5" width="9" height="17" rx="2.5" fill="#f08a84"/><rect x="1368.3" y="370.5" width="7" height="15" rx="2.5" fill="#f7b2a6"/></g><g transform="rotate(-36 1394 378)"><rect x="1384" y="369" width="11" height="18" rx="2.5" fill="#e59a7a"/><rect x="1395.5" y="370" width="9" height="16" rx="2.5" fill="#e46a6e"/></g><g transform="rotate(12 1421.2 378)"><rect x="1412.2" y="368.5" width="10" height="19" rx="2.5" fill="#f07c80"/><rect x="1422.7" y="369.5" width="8" height="17" rx="2.5" fill="#f4a89c"/></g><g transform="rotate(-24 1448.4 378)"><rect x="1440.4" y="368" width="9" height="20" rx="2.5" fill="#e8a488"/><rect x="1449.9" y="369" width="7" height="18" rx="2.5" fill="#dd6c70"/></g><g transform="rotate(24 1475.6 378)"><rect x="1465.6" y="369.5" width="11" height="17" rx="2.5" fill="#f29a90"/><rect x="1477.1" y="370.5" width="9" height="15" rx="2.5" fill="#f7b2a6"/></g><g transform="rotate(-12 1502.8 378)"><rect x="1493.8" y="369" width="10" height="18" rx="2.5" fill="#ee7f7a"/><rect x="1504.3" y="370" width="8" height="16" rx="2.5" fill="#e46a6e"/></g><g transform="rotate(0 1254 427.5)"><rect x="1244" y="418.5" width="11" height="18" rx="2.5" fill="#e59a7a"/><rect x="1255.5" y="419.5" width="9" height="16" rx="2.5" fill="#dd6c70"/></g><g transform="rotate(-36 1281.2 427.5)"><rect x="1272.2" y="418" width="10" height="19" rx="2.5" fill="#f07c80"/><rect x="1282.7" y="419" width="8" height="17" rx="2.5" fill="#f7b2a6"/></g><g transform="rotate(12 1308.4 427.5)"><rect x="1300.4" y="417.5" width="9" height="20" rx="2.5" fill="#e8a488"/><rect x="1309.9" y="418.5" width="7" height="18" rx="2.5" fill="#e46a6e"/></g><g transform="rotate(-24 1335.6 427.5)"><rect x="1325.6" y="419" width="11" height="17" rx="2.5" fill="#f29a90"/><rect x="1337.1" y="420" width="9" height="15" rx="2.5" fill="#f4a89c"/></g><g transform="rotate(24 1362.8 427.5)"><rect x="1353.8" y="418.5" width="10" height="18" rx="2.5" fill="#ee7f7a"/><rect x="1364.3" y="419.5" width="8" height="16" rx="2.5" fill="#dd6c70"/></g><g transform="rotate(-12 1390 427.5)"><rect x="1382" y="418" width="9" height="19" rx="2.5" fill="#f08a84"/><rect x="1391.5" y="419" width="7" height="17" rx="2.5" fill="#f7b2a6"/></g><g transform="rotate(36 1417.2 427.5)"><rect x="1407.2" y="417.5" width="11" height="20" rx="2.5" fill="#e59a7a"/><rect x="1418.7" y="418.5" width="9" height="18" rx="2.5" fill="#e46a6e"/></g><g transform="rotate(0 1444.4 427.5)"><rect x="1435.4" y="419" width="10" height="17" rx="2.5" fill="#f07c80"/><rect x="1445.9" y="420" width="8" height="15" rx="2.5" fill="#f4a89c"/></g><g transform="rotate(-36 1471.6 427.5)"><rect x="1463.6" y="418.5" width="9" height="18" rx="2.5" fill="#e8a488"/><rect x="1473.1" y="419.5" width="7" height="16" rx="2.5" fill="#dd6c70"/></g><g transform="rotate(12 1498.8 427.5)"><rect x="1488.8" y="418" width="11" height="19" rx="2.5" fill="#f29a90"/><rect x="1500.3" y="419" width="9" height="17" rx="2.5" fill="#f7b2a6"/></g><g transform="rotate(24 1255 480)"><rect x="1247" y="470.5" width="9" height="19" rx="2.5" fill="#f08a84"/><rect x="1256.5" y="471.5" width="7" height="17" rx="2.5" fill="#f4a89c"/></g><g transform="rotate(-12 1282.2 480)"><rect x="1272.2" y="470" width="11" height="20" rx="2.5" fill="#e59a7a"/><rect x="1283.7" y="471" width="9" height="18" rx="2.5" fill="#dd6c70"/></g><g transform="rotate(36 1309.4 480)"><rect x="1300.4" y="471.5" width="10" height="17" rx="2.5" fill="#f07c80"/><rect x="1310.9" y="472.5" width="8" height="15" rx="2.5" fill="#f7b2a6"/></g><g transform="rotate(0 1336.6 480)"><rect x="1328.6" y="471" width="9" height="18" rx="2.5" fill="#e8a488"/><rect x="1338.1" y="472" width="7" height="16" rx="2.5" fill="#e46a6e"/></g><g transform="rotate(-36 1363.8 480)"><rect x="1353.8" y="470.5" width="11" height="19" rx="2.5" fill="#f29a90"/><rect x="1365.3" y="471.5" width="9" height="17" rx="2.5" fill="#f4a89c"/></g><g transform="rotate(12 1391 480)"><rect x="1382" y="470" width="10" height="20" rx="2.5" fill="#ee7f7a"/><rect x="1392.5" y="471" width="8" height="18" rx="2.5" fill="#dd6c70"/></g><g transform="rotate(-24 1418.2 480)"><rect x="1410.2" y="471.5" width="9" height="17" rx="2.5" fill="#f08a84"/><rect x="1419.7" y="472.5" width="7" height="15" rx="2.5" fill="#f7b2a6"/></g><g transform="rotate(24 1445.4 480)"><rect x="1435.4" y="471" width="11" height="18" rx="2.5" fill="#e59a7a"/><rect x="1446.9" y="472" width="9" height="16" rx="2.5" fill="#e46a6e"/></g><g transform="rotate(-12 1472.6 480)"><rect x="1463.6" y="470.5" width="10" height="19" rx="2.5" fill="#f07c80"/><rect x="1474.1" y="471.5" width="8" height="17" rx="2.5" fill="#f4a89c"/></g><g transform="rotate(36 1499.8 480)"><rect x="1491.8" y="470" width="9" height="20" rx="2.5" fill="#e8a488"/><rect x="1501.3" y="471" width="7" height="18" rx="2.5" fill="#dd6c70"/></g><g transform="rotate(-36 1256 530)"><rect x="1247" y="520" width="10" height="20" rx="2.5" fill="#ee7f7a"/><rect x="1257.5" y="521" width="8" height="18" rx="2.5" fill="#e46a6e"/></g><g transform="rotate(12 1283.2 530)"><rect x="1275.2" y="521.5" width="9" height="17" rx="2.5" fill="#f08a84"/><rect x="1284.7" y="522.5" width="7" height="15" rx="2.5" fill="#f4a89c"/></g><g transform="rotate(-24 1310.4 530)"><rect x="1300.4" y="521" width="11" height="18" rx="2.5" fill="#e59a7a"/><rect x="1311.9" y="522" width="9" height="16" rx="2.5" fill="#dd6c70"/></g><g transform="rotate(24 1337.6 530)"><rect x="1328.6" y="520.5" width="10" height="19" rx="2.5" fill="#f07c80"/><rect x="1339.1" y="521.5" width="8" height="17" rx="2.5" fill="#f7b2a6"/></g><g transform="rotate(-12 1364.8 530)"><rect x="1356.8" y="520" width="9" height="20" rx="2.5" fill="#e8a488"/><rect x="1366.3" y="521" width="7" height="18" rx="2.5" fill="#e46a6e"/></g><g transform="rotate(36 1392 530)"><rect x="1382" y="521.5" width="11" height="17" rx="2.5" fill="#f29a90"/><rect x="1393.5" y="522.5" width="9" height="15" rx="2.5" fill="#f4a89c"/></g><g transform="rotate(0 1419.2 530)"><rect x="1410.2" y="521" width="10" height="18" rx="2.5" fill="#ee7f7a"/><rect x="1420.7" y="522" width="8" height="16" rx="2.5" fill="#dd6c70"/></g><g transform="rotate(-36 1446.4 530)"><rect x="1438.4" y="520.5" width="9" height="19" rx="2.5" fill="#f08a84"/><rect x="1447.9" y="521.5" width="7" height="17" rx="2.5" fill="#f7b2a6"/></g><g transform="rotate(12 1473.6 530)"><rect x="1463.6" y="520" width="11" height="20" rx="2.5" fill="#e59a7a"/><rect x="1475.1" y="521" width="9" height="18" rx="2.5" fill="#e46a6e"/></g><g transform="rotate(-24 1500.8 530)"><rect x="1491.8" y="521.5" width="10" height="17" rx="2.5" fill="#f07c80"/><rect x="1502.3" y="522.5" width="8" height="15" rx="2.5" fill="#f4a89c"/></g><g transform="rotate(-12 1257 584)"><rect x="1247" y="575.5" width="11" height="17" rx="2.5" fill="#f29a90"/><rect x="1258.5" y="576.5" width="9" height="15" rx="2.5" fill="#f7b2a6"/></g><g transform="rotate(36 1284.2 584)"><rect x="1275.2" y="575" width="10" height="18" rx="2.5" fill="#ee7f7a"/><rect x="1285.7" y="576" width="8" height="16" rx="2.5" fill="#e46a6e"/></g><g transform="rotate(0 1311.4 584)"><rect x="1303.4" y="574.5" width="9" height="19" rx="2.5" fill="#f08a84"/><rect x="1312.9" y="575.5" width="7" height="17" rx="2.5" fill="#f4a89c"/></g><g transform="rotate(-36 1338.6 584)"><rect x="1328.6" y="574" width="11" height="20" rx="2.5" fill="#e59a7a"/><rect x="1340.1" y="575" width="9" height="18" rx="2.5" fill="#dd6c70"/></g><g transform="rotate(12 1365.8 584)"><rect x="1356.8" y="575.5" width="10" height="17" rx="2.5" fill="#f07c80"/><rect x="1367.3" y="576.5" width="8" height="15" rx="2.5" fill="#f7b2a6"/></g><g transform="rotate(-24 1393 584)"><rect x="1385" y="575" width="9" height="18" rx="2.5" fill="#e8a488"/><rect x="1394.5" y="576" width="7" height="16" rx="2.5" fill="#e46a6e"/></g><g transform="rotate(24 1420.2 584)"><rect x="1410.2" y="574.5" width="11" height="19" rx="2.5" fill="#f29a90"/><rect x="1421.7" y="575.5" width="9" height="17" rx="2.5" fill="#f4a89c"/></g><g transform="rotate(-12 1447.4 584)"><rect x="1438.4" y="574" width="10" height="20" rx="2.5" fill="#ee7f7a"/><rect x="1448.9" y="575" width="8" height="18" rx="2.5" fill="#dd6c70"/></g><g transform="rotate(36 1474.6 584)"><rect x="1466.6" y="575.5" width="9" height="17" rx="2.5" fill="#f08a84"/><rect x="1476.1" y="576.5" width="7" height="15" rx="2.5" fill="#f7b2a6"/></g><g transform="rotate(0 1501.8 584)"><rect x="1491.8" y="575" width="11" height="18" rx="2.5" fill="#e59a7a"/><rect x="1503.3" y="576" width="9" height="16" rx="2.5" fill="#e46a6e"/></g><g transform="rotate(12 1258 631.5)"><rect x="1250" y="622.5" width="9" height="18" rx="2.5" fill="#e8a488"/><rect x="1259.5" y="623.5" width="7" height="16" rx="2.5" fill="#dd6c70"/></g><g transform="rotate(-24 1285.2 631.5)"><rect x="1275.2" y="622" width="11" height="19" rx="2.5" fill="#f29a90"/><rect x="1286.7" y="623" width="9" height="17" rx="2.5" fill="#f7b2a6"/></g><g transform="rotate(24 1312.4 631.5)"><rect x="1303.4" y="621.5" width="10" height="20" rx="2.5" fill="#ee7f7a"/><rect x="1313.9" y="622.5" width="8" height="18" rx="2.5" fill="#e46a6e"/></g><g transform="rotate(-12 1339.6 631.5)"><rect x="1331.6" y="623" width="9" height="17" rx="2.5" fill="#f08a84"/><rect x="1341.1" y="624" width="7" height="15" rx="2.5" fill="#f4a89c"/></g><g transform="rotate(36 1366.8 631.5)"><rect x="1356.8" y="622.5" width="11" height="18" rx="2.5" fill="#e59a7a"/><rect x="1368.3" y="623.5" width="9" height="16" rx="2.5" fill="#dd6c70"/></g><g transform="rotate(0 1394 631.5)"><rect x="1385" y="622" width="10" height="19" rx="2.5" fill="#f07c80"/><rect x="1395.5" y="623" width="8" height="17" rx="2.5" fill="#f7b2a6"/></g><g transform="rotate(-36 1421.2 631.5)"><rect x="1413.2" y="621.5" width="9" height="20" rx="2.5" fill="#e8a488"/><rect x="1422.7" y="622.5" width="7" height="18" rx="2.5" fill="#e46a6e"/></g><g transform="rotate(12 1448.4 631.5)"><rect x="1438.4" y="623" width="11" height="17" rx="2.5" fill="#f29a90"/><rect x="1449.9" y="624" width="9" height="15" rx="2.5" fill="#f4a89c"/></g><g transform="rotate(-24 1475.6 631.5)"><rect x="1466.6" y="622.5" width="10" height="18" rx="2.5" fill="#ee7f7a"/><rect x="1477.1" y="623.5" width="8" height="16" rx="2.5" fill="#dd6c70"/></g><g transform="rotate(24 1502.8 631.5)"><rect x="1494.8" y="622" width="9" height="19" rx="2.5" fill="#f08a84"/><rect x="1504.3" y="623" width="7" height="17" rx="2.5" fill="#f7b2a6"/></g></g></g>
<path d="M1420.4,189.9 A137,222 0 0 1 1424.8,604.3" fill="none" stroke="#9a8a96" stroke-width="3.5" opacity="0.85"/>
<rect x="1512.5" y="214" width="4" height="368" fill="#ffa4b6" opacity="0.85"/>
<line x1="1513" y1="400.8" x2="1758" y2="400.8" stroke="#5a0a10" stroke-width="2.4"/>
<rect x="1513" y="403" width="245" height="12" fill="#c74446" opacity="0.8"/>
<line x1="1232" y1="499" x2="1581" y2="228" stroke="#8a6aa0" stroke-width="2.6" opacity="0.55"/>
<line x1="1513" y1="281" x2="1583" y2="226.5" stroke="#3a3aa0" stroke-width="3.2" stroke-dasharray="6 3"/>
<path d="M1601,213 L1590.5,236 L1575,217.5 Z" fill="#2b35a8"/>
<line x1="1364" y1="118" x2="1364" y2="675" stroke="#36527f" stroke-width="5.5"/>
<rect x="1367" y="143.5" width="9" height="34" fill="#9ac0e6"/>
<rect x="1367" y="638" width="9" height="30" fill="#9ac0e6"/>
<line x1="1364" y1="177" x2="1364" y2="621" stroke="#a46c92" stroke-width="6" opacity="0.9"/>
<rect x="1367" y="177" width="7" height="444" fill="#ee2f6c" opacity="0.55"/>
<path d="M1365.5,99.5 L1376.5,123 L1355,123 Z" fill="#2b45a8"/>
<text x="1393" y="114" font-size="55" fill="#111" text-anchor="start"  style="font-style:italic">y</text>
<text x="1596" y="195.5" font-size="55" fill="#111" text-anchor="start"  style="font-style:italic">x</text>
<path d="M1758,254 L1941,266.5 L1941,540.5 L1758,553 Z" fill="#d0d0d0" stroke="#111" stroke-width="3.2" stroke-linejoin="miter"/>
<path d="M1762,259 L1937,271" stroke="#fff" stroke-width="0" fill="none"/>
<path d="M1760,288 L1840,306 L1840,496 L1760,515 Z" fill="#d79fb0"/>
<rect x="1771.5" y="305.5" width="68.5" height="189" fill="#9e6f7e"/>
<rect x="1840" y="305.5" width="89" height="189" fill="#999999"/>
<rect x="1771.5" y="305.5" width="157.5" height="189" fill="none" stroke="#c8b8bc" stroke-width="2" opacity="0.6"/>
<rect x="1760" y="288" width="9" height="227" fill="#c99aa8" opacity="0.7"/>
<rect x="1929" y="305.5" width="8" height="189" fill="#e2e2e2" opacity="0.7"/>
<rect x="1840" y="305.5" width="6" height="189" fill="#b0b0b0" opacity="0.8"/>
<g clip-path="url(#cpMonL)" fill="none" stroke="#d9a3b6"><ellipse cx="1849" cy="400.5" rx="74" ry="90" stroke-width="2.6"/><ellipse cx="1849" cy="400.5" rx="68" ry="83.5" stroke-width="2"/><ellipse cx="1852" cy="400.5" rx="27" ry="31" stroke-width="3"/></g>
<g clip-path="url(#cpMonR)" fill="none" stroke="#dcdcdc"><ellipse cx="1849" cy="400.5" rx="74" ry="90" stroke-width="2.6"/><ellipse cx="1849" cy="400.5" rx="68" ry="83.5" stroke-width="2"/><ellipse cx="1852" cy="400.5" rx="27" ry="31" stroke-width="3"/></g>
<ellipse cx="1856" cy="400.5" rx="17" ry="24" fill="#e6e6e6"/>
<path d="M1840,376 A17,24 0 0 0 1840,425 Z" fill="#dba9ba"/>
<line x1="1858" y1="393" x2="1939" y2="393" stroke="#c4c4c4" stroke-width="2.4"/>
<line x1="1941" y1="394" x2="2028" y2="394" stroke="#111" stroke-width="3"/>
<path d="M2047,394 L2025.5,384.5 L2025.5,403.5 Z" fill="#111"/>
<text x="2012" y="453.5" font-size="50" fill="#111" text-anchor="start"  style="font-style:italic">z</text>
<text x="1768" y="213.5" font-size="55.5" fill="#111" text-anchor="start"  style="">Monitor</text>
<text x="1248" y="737" font-size="55" fill="#111" text-anchor="start"  style="">Metasurface</text>
<path d="M1518.5,641 L2091,641 L2091,633 L2128.5,652 L2091,671 L2091,663 L1518.5,663 Z" fill="#b1decf"/>
<path d="M2091,641 L2091,633 L2128.5,652 L2091,671 L2091,663" fill="#c9d6d2" stroke="#222" stroke-width="3.5" stroke-dasharray="14 8"/>
<line x1="1527" y1="643.5" x2="2091" y2="643.5" stroke="#1f4d3f" stroke-width="3.2" stroke-dasharray="16 8"/>
<line x1="1519" y1="661.5" x2="2091" y2="661.5" stroke="#1c1c1c" stroke-width="4" stroke-dasharray="16 8"/>
<line x1="1519.5" y1="645" x2="1519.5" y2="663" stroke="#1c1c1c" stroke-width="3"/>
<line x1="2132.7" y1="47" x2="2512" y2="47" stroke="#0d0d0d" stroke-width="5.8" fill="none" stroke-dasharray="23 17.7"/>
<line x1="2132.7" y1="749" x2="2512" y2="749" stroke="#0d0d0d" stroke-width="5.8" fill="none" stroke-dasharray="23 17.7"/>
<line x1="2136.8" y1="43.8" x2="2136.8" y2="752.2" stroke="#0d0d0d" stroke-width="5.8" fill="none" stroke-dasharray="23.5 17.4" stroke-dashoffset="13.8"/>
<line x1="2508.7" y1="43.8" x2="2508.7" y2="752.2" stroke="#0d0d0d" stroke-width="5.8" fill="none" stroke-dasharray="23.5 17.6" stroke-dashoffset="5.2"/>
<rect x="2505.8" y="735" width="5.8" height="17" fill="#0d0d0d"/>
<rect x="2499" y="44.1" width="12.6" height="5.8" fill="#0d0d0d"/>
<rect x="2499" y="746.1" width="12.6" height="5.8" fill="#0d0d0d"/>
<rect x="2161.5" y="108.5" width="255" height="255" fill="#ffffff"/>
<rect x="2164" y="111" width="250" height="250" fill="#2b4a9b"/>
<rect x="2164" y="111" width="10" height="250" fill="#2a3cb0" opacity="0.8"/>
<circle cx="2288.5" cy="238" r="114.0" fill="url(#gAmp)"/>
<circle cx="2288.5" cy="238" r="119" fill="none" stroke="#6f8fe0" stroke-width="2.6"/>
<text x="2188.5" y="95.5" font-size="55" fill="#111" text-anchor="start"  style="">Amplitude</text>
<rect x="2423" y="236" width="19" height="104" fill="#fff" opacity="0.6"/>
<rect x="2426" y="232" width="13" height="111.5" fill="#222"/>
<rect x="2426" y="239.5" width="13" height="97.5" fill="url(#gJet)"/>
<text x="2454" y="252.5" font-size="55" fill="#111" text-anchor="start"  style="">1</text>
<text x="2455" y="361" font-size="55" fill="#111" text-anchor="start"  style="">0</text>
<path d="M2272.5,374 h23 v15.5 h15 v23 h-15 v15.5 h-23 v-15.5 h-15.5 v-23 h15.5 Z" fill="#b3dfd1" stroke="#9aa6a2" stroke-width="2.2"/>
<rect x="2276.5" y="376" width="4" height="50" fill="#9cc9bb" opacity="0.7"/>
<rect x="2288" y="376" width="4" height="50" fill="#c4ccc9" opacity="0.8"/>
<rect x="2161.5" y="432.5" width="257" height="259" fill="#ffffff"/>
<rect x="2164" y="435" width="252" height="254" fill="url(#gPh)"/>
<text x="2234" y="737.5" font-size="55" fill="#111" text-anchor="start"  style="">Phase</text>
<rect x="2423.5" y="553" width="23" height="126" fill="#fff" opacity="0.7"/>
<rect x="2427" y="555" width="16.5" height="122" fill="url(#gHsv)"/>
<text x="2447" y="580.5" font-size="55" fill="#111">2<tspan style="font-style:italic" dx="-1">π</tspan></text>
<text x="2445" y="691.5" font-size="55" fill="#111" text-anchor="start"  style="">0</text>
<rect x="638.5" y="874.5" width="461" height="459.5" fill="#ffffff"/>
<rect x="641" y="877" width="456" height="454.5" fill="#090909"/>
<g clip-path="url(#cpI0)">
<ellipse cx="868.3" cy="1104.3" rx="221" ry="221" fill="none" stroke="#8a8a8a" stroke-width="5" opacity="0.75" filter="url(#bl2)"/>
<ellipse cx="868.3" cy="1104.3" rx="211.5" ry="211.5" fill="none" stroke="#777" stroke-width="3" opacity="0.5" filter="url(#bl2)"/>
<ellipse cx="868.3" cy="1104.3" rx="201.5" ry="203" fill="none" stroke="#f4f4f4" stroke-width="9" opacity="1" filter="url(#bl1)"/>
<ellipse cx="868.3" cy="1104.3" rx="201.5" ry="203" fill="none" stroke="#9a9a9a" stroke-width="1.6" opacity="0.7" filter="url(#bl1)"/>
<ellipse cx="870" cy="1102.5" rx="70" ry="70" fill="none" stroke="#3a3a3a" stroke-width="4" opacity="0.6" filter="url(#bl2)"/>
<ellipse cx="870" cy="1102.5" rx="44" ry="44" fill="none" stroke="#ffffff" stroke-width="4.6" opacity="1" filter="url(#bl1)"/>
<ellipse cx="870" cy="1102.5" rx="33" ry="33" fill="none" stroke="#aaaaaa" stroke-width="2.5" opacity="0.8" filter="url(#bl1)" stroke-dasharray="5 4"/>
<ellipse cx="870" cy="1102.5" rx="22.5" ry="23.5" fill="#fff" opacity="1" filter="url(#bl1)"/>
<circle cx="870" cy="1102.5" r="2.8" fill="#111"/>
<line x1="779" y1="1190" x2="819.2" y2="1150.6" stroke="#5a9fd6" stroke-width="6" stroke-linecap="round"/>
<path d="M832,1138 L823.7,1158.1 L811.8,1145.9 Z" fill="#3fb3c8"/>
<line x1="778" y1="1191" x2="790" y2="1179" stroke="#b8b8b8" stroke-width="5" stroke-linecap="round"/>
<rect x="1006" y="1266.5" width="81.5" height="7.0" fill="#fff"/>
<text x="977.5" y="1317.5" font-size="55" fill="#fff">2 μm</text>
</g>
<rect x="1100.5" y="875.0" width="461.7" height="459" fill="#ffffff"/>
<rect x="1103" y="877.5" width="456.7" height="454" fill="#090909"/>
<g clip-path="url(#cpI1)">
<ellipse cx="1330.5" cy="1105" rx="213" ry="213" fill="none" stroke="#c4c4c4" stroke-width="6.5" opacity="0.95" filter="url(#bl1)"/>
<ellipse cx="1330.5" cy="1105" rx="196" ry="196" fill="none" stroke="#5a5a5a" stroke-width="5" opacity="0.7" filter="url(#bl2)"/>
<ellipse cx="1330.5" cy="893" rx="38" ry="7" fill="#a8a8a8" opacity="0.9" filter="url(#bl2)"/>
<ellipse cx="1330.5" cy="1317" rx="40" ry="6" fill="#888" opacity="0.8" filter="url(#bl2)"/>
<ellipse cx="1331" cy="1105" rx="79" ry="79" fill="none" stroke="#333" stroke-width="5" opacity="0.6" filter="url(#bl2)"/>
<ellipse cx="1331" cy="1105" rx="50" ry="50" fill="none" stroke="#d0d0d0" stroke-width="6" opacity="1" filter="url(#bl1)"/>
<ellipse cx="1331" cy="1105" rx="31" ry="30" fill="#fff" opacity="1" filter="url(#bl1)"/>
<circle cx="1331.5" cy="1105" r="3" fill="#111"/>
<line x1="1225" y1="1191.5" x2="1258.9" y2="1158" stroke="#4a9ae0" stroke-width="6" stroke-linecap="round"/>
<path d="M1271,1146 L1263.5,1165.4 L1251.5,1153.3 Z" fill="#8aaed0"/>
<line x1="1224" y1="1192.5" x2="1232" y2="1184.5" stroke="#8fd0b8" stroke-width="5" stroke-linecap="round"/>
<rect x="1467" y="1266" width="82" height="8" fill="#fff"/>
<text x="1440.5" y="1317.5" font-size="55" fill="#fff">2 μm</text>
</g>
<rect x="1569.5" y="875.0" width="457.7" height="457" fill="#ffffff"/>
<rect x="1572" y="877.5" width="452.7" height="452" fill="#090909"/>
<g clip-path="url(#cpI2)">
<ellipse cx="1799" cy="1099" rx="215" ry="212" fill="none" stroke="#b0b0b0" stroke-width="6" opacity="0.95" filter="url(#bl1)"/>
<ellipse cx="1799" cy="1099" rx="195" ry="192" fill="none" stroke="#989898" stroke-width="5.5" opacity="0.9" filter="url(#bl1)"/>
<ellipse cx="1781" cy="887.5" rx="12" ry="4" fill="#ddd" opacity="0.6" filter="url(#bl2)"/>
<ellipse cx="1799" cy="907.5" rx="12" ry="4" fill="#ddd" opacity="0.6" filter="url(#bl2)"/>
<ellipse cx="1799" cy="1310.5" rx="24" ry="7" fill="#fff" opacity="0.95" filter="url(#bl2)"/>
<ellipse cx="1596" cy="1117" rx="20" ry="34" fill="#090909" opacity="0.85" filter="url(#bl3)"/>
<ellipse cx="1999" cy="1115" rx="20" ry="34" fill="#090909" opacity="0.85" filter="url(#bl3)"/>
<ellipse cx="1799" cy="1105" rx="86" ry="92" fill="none" stroke="#333" stroke-width="6" opacity="0.6" filter="url(#bl2)"/>
<ellipse cx="1799" cy="1104" rx="54" ry="58" fill="none" stroke="#c8c8c8" stroke-width="7" opacity="0.95" filter="url(#bl2)"/>
<ellipse cx="1799" cy="1108" rx="31" ry="40" fill="#fff" opacity="1" filter="url(#bl2)"/>
<ellipse cx="1799" cy="1051.5" rx="12" ry="8" fill="#fff" opacity="1" filter="url(#bl1)"/>
<ellipse cx="1799" cy="1159" rx="15" ry="7" fill="#fff" opacity="1" filter="url(#bl1)"/>
<ellipse cx="1799" cy="1143.5" rx="22" ry="4" fill="#090909" opacity="0.8" filter="url(#bl1)"/>
<ellipse cx="1799" cy="1065.5" rx="16" ry="4" fill="#090909" opacity="0.8" filter="url(#bl1)"/>
<ellipse cx="1799" cy="1190" rx="13" ry="8" fill="#777" opacity="0.9" filter="url(#bl2)"/>
<ellipse cx="1799" cy="1022" rx="9" ry="6" fill="#555" opacity="0.9" filter="url(#bl2)"/>
<ellipse cx="1799" cy="1225" rx="9" ry="14" fill="#333" opacity="0.9" filter="url(#bl2)"/>
<ellipse cx="1799" cy="975" rx="8" ry="20" fill="#2a2a2a" opacity="0.9" filter="url(#bl2)"/>
<circle cx="1794" cy="1098" r="2" fill="#333"/>
<circle cx="1804" cy="1098" r="2" fill="#333"/>
<circle cx="1799" cy="1120" r="2" fill="#333"/>
<line x1="1698" y1="1205" x2="1740.3" y2="1164.3" stroke="#e2305c" stroke-width="6.5" stroke-linecap="round"/>
<path d="M1752.5,1152.5 L1744.7,1171.8 L1732.9,1159.6 Z" fill="#ee3a34"/>
<rect x="1938" y="1267.5" width="79.5" height="8.5" fill="#fff"/>
<text x="1908.5" y="1317.5" font-size="55" fill="#fff">2 μm</text>
</g>
<circle cx="1601.5" cy="1118" r="32.5" fill="none" stroke="#d6e83a" stroke-width="6.5"/>
<circle cx="1987.5" cy="1115" r="32" fill="none" stroke="#d6e83a" stroke-width="6.5"/>
<rect x="2032.5" y="872.8" width="458" height="458.2" fill="#ffffff"/>
<rect x="2035" y="875.3" width="453" height="453.2" fill="#090909"/>
<g clip-path="url(#cpI3)">
<ellipse cx="2259.5" cy="1106" rx="225" ry="223" fill="none" stroke="#6a6a6a" stroke-width="4.5" opacity="0.7" filter="url(#bl2)"/>
<ellipse cx="2259.5" cy="1106" rx="213" ry="211" fill="none" stroke="#d4d4d4" stroke-width="6.5" opacity="1" filter="url(#bl1)"/>
<ellipse cx="2259.5" cy="1106" rx="194" ry="192" fill="none" stroke="#6a6a6a" stroke-width="5" opacity="0.8" filter="url(#bl2)"/>
<ellipse cx="2259.5" cy="1317" rx="24" ry="7" fill="#fff" opacity="0.95" filter="url(#bl2)"/>
<ellipse cx="2062" cy="1117" rx="20" ry="34" fill="#090909" opacity="0.85" filter="url(#bl3)"/>
<ellipse cx="2458" cy="1122" rx="20" ry="34" fill="#090909" opacity="0.85" filter="url(#bl3)"/>
<ellipse cx="2260" cy="1104" rx="89" ry="94" fill="none" stroke="#2e2e2e" stroke-width="6" opacity="0.6" filter="url(#bl2)"/>
<ellipse cx="2260" cy="1102" rx="58" ry="60" fill="none" stroke="#bdbdbd" stroke-width="7.5" opacity="0.95" filter="url(#bl2)"/>
<ellipse cx="2261" cy="1104" rx="37" ry="45" fill="#fff" opacity="1" filter="url(#bl2)"/>
<ellipse cx="2246" cy="1044" rx="11" ry="7" fill="#fff" opacity="1" filter="url(#bl1)"/>
<ellipse cx="2275" cy="1044" rx="11" ry="7" fill="#fff" opacity="1" filter="url(#bl1)"/>
<ellipse cx="2260" cy="1050" rx="5" ry="9" fill="#090909" opacity="0.9" filter="url(#bl1)"/>
<ellipse cx="2260" cy="1164" rx="16" ry="6.5" fill="#fff" opacity="1" filter="url(#bl1)"/>
<ellipse cx="2260" cy="1151" rx="16" ry="4" fill="#222" opacity="0.8" filter="url(#bl1)"/>
<ellipse cx="2260" cy="1193" rx="12" ry="7" fill="#666" opacity="0.9" filter="url(#bl2)"/>
<ellipse cx="2260" cy="1228" rx="10" ry="14" fill="#2a2a2a" opacity="0.9" filter="url(#bl2)"/>
<ellipse cx="2246" cy="1017" rx="7" ry="5" fill="#444" opacity="0.9" filter="url(#bl2)"/>
<ellipse cx="2275" cy="1017" rx="7" ry="5" fill="#444" opacity="0.9" filter="url(#bl2)"/>
<circle cx="2250" cy="1096" r="2.4" fill="#222"/>
<circle cx="2260" cy="1089" r="2.4" fill="#222"/>
<circle cx="2270" cy="1096" r="2.4" fill="#222"/>
<circle cx="2260" cy="1125" r="2.4" fill="#222"/>
<line x1="2172.5" y1="1204.5" x2="2210.7" y2="1165.2" stroke="#ec2a52" stroke-width="5.5" stroke-linecap="round"/>
<path d="M2222.5,1153 L2215.7,1172.9 L2202.8,1160.4 Z" fill="#f02a5a"/>
<rect x="2400" y="1266" width="82" height="8" fill="#fff"/>
<text x="2368.5" y="1317.5" font-size="55" fill="#fff">2 μm</text>
</g>
<circle cx="2067" cy="1116" r="33" fill="none" stroke="#d6e83a" stroke-width="6.5"/>
<circle cx="2453" cy="1123.5" r="33" fill="none" stroke="#d6e83a" stroke-width="6.5"/>
<text x="834" y="860" font-size="55.5" fill="#111"><tspan style="font-style:italic">α</tspan><tspan dx="-0.5">=1.0</tspan></text>
<text x="1252" y="861" font-size="55.5" fill="#111"><tspan style="font-style:italic">α</tspan><tspan dx="-0.5">=2.0</tspan></text>
<text x="1738.5" y="860" font-size="55.5" fill="#111"><tspan style="font-style:italic">α</tspan><tspan dx="-0.5">=2.5</tspan></text>
<text x="2230.5" y="860" font-size="55.5" fill="#111"><tspan style="font-style:italic">α</tspan><tspan dx="-0.5">=3.5</tspan></text>
<rect x="2495.5" y="1134" width="21" height="174.5" fill="#fff" opacity="0.8"/>
<rect x="2498.3" y="1136" width="15.2" height="169.5" fill="url(#gGray)"/>
<text x="2521.5" y="1137" font-size="55" fill="#111" text-anchor="start"  style="">1</text>
<text x="2521.5" y="1323" font-size="55" fill="#111" text-anchor="start"  style="">0</text>
<rect x="2545" y="1085" width="8" height="250" fill="#6a2f73"/>
<rect x="2548.4" y="1085" width="1.6" height="250" fill="#4a1552"/>
</svg>
</body></html>
